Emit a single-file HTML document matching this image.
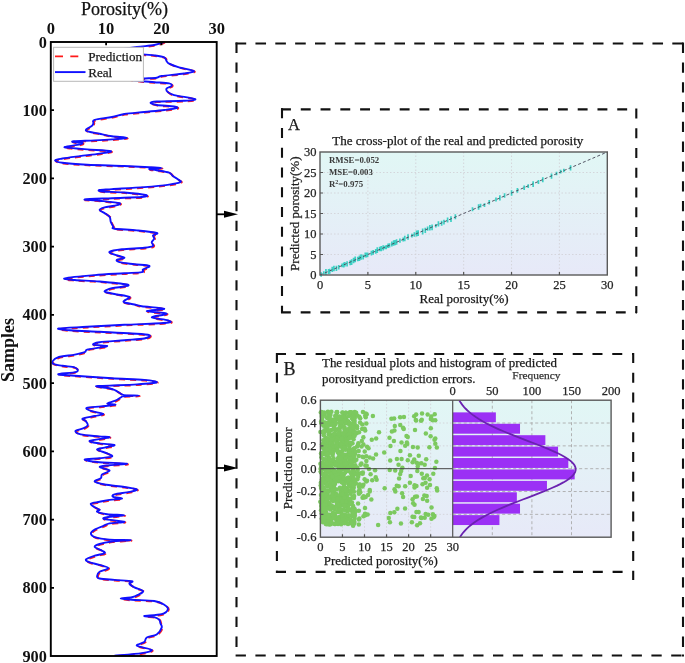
<!DOCTYPE html><html><head><meta charset="utf-8"><title>Porosity prediction</title><style>
html,body{margin:0;padding:0;background:#fff;overflow:hidden;}svg{display:block;will-change:transform;}
text{font-family:"Liberation Serif",serif;}
</style></head><body>
<svg width="685" height="663" viewBox="0 0 685 663">
<defs>
<linearGradient id="bg" x1="0" y1="0" x2="0" y2="1"><stop offset="0" stop-color="#e1f7f5"/><stop offset="1" stop-color="#e7e9f8"/></linearGradient>
<clipPath id="cpL"><rect x="51" y="42" width="165.7" height="614"/></clipPath>
<clipPath id="cpH"><rect x="452.7" y="400.2" width="158.4" height="137"/></clipPath>
</defs>
<text x="124.6" y="14.8" font-size="18" text-anchor="middle" fill="#111" stroke="#111" stroke-width="0.25">Porosity(%)</text>
<text x="50.8" y="34.2" font-size="16.5" font-weight="bold" text-anchor="middle" fill="#111">0</text>
<text x="106.1" y="34.2" font-size="16.5" font-weight="bold" text-anchor="middle" fill="#111">10</text>
<text x="161.4" y="34.2" font-size="16.5" font-weight="bold" text-anchor="middle" fill="#111">20</text>
<text x="216.7" y="34.2" font-size="16.5" font-weight="bold" text-anchor="middle" fill="#111">30</text>
<text x="46.8" y="47.6" font-size="16.3" font-weight="bold" text-anchor="end" fill="#111">0</text>
<text x="46.8" y="115.82" font-size="16.3" font-weight="bold" text-anchor="end" fill="#111">100</text>
<text x="46.8" y="184.04" font-size="16.3" font-weight="bold" text-anchor="end" fill="#111">200</text>
<text x="46.8" y="252.27" font-size="16.3" font-weight="bold" text-anchor="end" fill="#111">300</text>
<text x="46.8" y="320.49" font-size="16.3" font-weight="bold" text-anchor="end" fill="#111">400</text>
<text x="46.8" y="388.71" font-size="16.3" font-weight="bold" text-anchor="end" fill="#111">500</text>
<text x="46.8" y="456.93" font-size="16.3" font-weight="bold" text-anchor="end" fill="#111">600</text>
<text x="46.8" y="525.16" font-size="16.3" font-weight="bold" text-anchor="end" fill="#111">700</text>
<text x="46.8" y="593.38" font-size="16.3" font-weight="bold" text-anchor="end" fill="#111">800</text>
<text x="46.8" y="661.6" font-size="16.3" font-weight="bold" text-anchor="end" fill="#111">900</text>
<text transform="translate(14.3,350) rotate(-90)" font-size="18" font-weight="bold" text-anchor="middle" fill="#111">Samples</text>
<g clip-path="url(#cpL)">
<path d="M164.2,42C162.53,42.5 158.75,44.17 154.2,45C149.65,45.83 142.6,46.17 136.9,47C131.2,47.83 121.98,49.17 120,50C118.02,50.83 121.17,51.27 125,52C128.83,52.73 138.13,53.83 143,54.4C147.87,54.97 150.67,54.9 154.2,55.4C157.73,55.9 162.13,56.45 164.2,57.4C166.27,58.35 165.78,60.07 166.6,61.1C167.42,62.13 167.03,62.57 169.1,63.6C171.17,64.63 174.87,66.07 179,67.3C183.13,68.53 193.07,69.97 193.9,71C194.73,72.03 189.37,72.67 184,73.5C178.63,74.33 166.25,75.3 161.7,76C157.15,76.7 159.82,77.28 156.7,77.7C153.58,78.12 147.45,78.2 143,78.5C138.55,78.8 130.62,79.08 130,79.5C129.38,79.92 135.27,80.55 139.3,81C143.33,81.45 149.23,81.8 154.2,82.2C159.17,82.6 166.2,82.78 169.1,83.4C172,84.02 172.02,85.07 171.6,85.9C171.18,86.73 167.22,87.37 166.6,88.4C165.98,89.43 166.65,90.98 167.9,92.1C169.15,93.22 169.55,93.93 174.1,95.1C178.65,96.27 193.55,98.15 195.2,99.1C196.85,100.05 190.42,100.4 184,100.8C177.58,101.2 162.28,101.17 156.7,101.5C151.12,101.83 150.5,102.22 150.5,102.8C150.5,103.38 152.77,104.38 156.7,105C160.63,105.62 170.78,105.97 174.1,106.5C177.42,107.03 178.25,107.62 176.6,108.2C174.95,108.78 169.58,109.37 164.2,110C158.82,110.63 150.93,111.33 144.3,112C137.67,112.67 129.78,113.17 124.4,114C119.02,114.83 116.95,116.02 112,117C107.05,117.98 97.8,118.88 94.7,119.9C91.6,120.92 93.82,122.15 93.4,123.1C92.98,124.05 93.43,124.35 92.2,125.6C90.97,126.85 84.77,129.25 86,130.6C87.23,131.95 95.27,132.77 99.6,133.7C103.93,134.63 107.45,135.5 112,136.2C116.55,136.9 126.9,137.37 126.9,137.9C126.9,138.43 117.37,138.98 112,139.4C106.63,139.82 101.1,140.1 94.7,140.4C88.3,140.7 76.92,140.87 73.6,141.2C70.28,141.53 73.35,142.12 74.8,142.4C76.25,142.68 81.47,142.57 82.3,142.9C83.13,143.23 82.7,143.73 79.8,144.4C76.9,145.07 66.55,146.32 64.9,146.9C63.25,147.48 66.18,147.48 69.9,147.9C73.62,148.32 80.38,148.87 87.2,149.4C94.02,149.93 108.73,150.4 110.8,151.1C112.87,151.8 104.77,152.77 99.6,153.6C94.43,154.43 86,155.28 79.8,156.1C73.6,156.92 66.53,157.8 62.4,158.5C58.27,159.2 55,159.58 55,160.3C55,161.02 57.03,162.07 62.4,162.8C67.77,163.53 76.87,164.17 87.2,164.7C97.53,165.23 114.05,165.58 124.4,166C134.75,166.42 143.08,166.87 149.3,167.2C155.52,167.53 161.7,167.7 161.7,168C161.7,168.3 150.13,168.63 149.3,169C148.47,169.37 153.4,169.58 156.7,170.2C160,170.82 166.42,171.75 169.1,172.7C171.78,173.65 171.15,174.67 172.8,175.9C174.45,177.13 177.75,179.07 179,180.1C180.25,181.13 181.95,181.35 180.3,182.1C178.65,182.85 175.1,183.77 169.1,184.6C163.1,185.43 153.82,186.35 144.3,187.1C134.78,187.85 119.45,188.62 112,189.1C104.55,189.58 101.25,189.6 99.6,190C97.95,190.4 97.97,191.08 102.1,191.5C106.23,191.92 117.17,191.92 124.4,192.5C131.63,193.08 142.6,194.25 145.5,195C148.4,195.75 147.38,196.47 141.8,197C136.22,197.53 121.52,197.78 112,198.2C102.48,198.62 86.77,199.08 84.7,199.5C82.63,199.92 93.8,200.08 99.6,200.7C105.4,201.32 117.02,202.37 119.5,203.2C121.98,204.03 116.98,205 114.5,205.7C112.02,206.4 107.08,206.7 104.6,207.4C102.12,208.1 99.6,208.95 99.6,209.9C99.6,210.85 102.93,211.95 104.6,213.1C106.27,214.25 108.57,215.35 109.6,216.8C110.63,218.25 110.18,220.13 110.8,221.8C111.42,223.47 112.68,225.65 113.3,226.8C113.92,227.95 110.57,228.1 114.5,228.7C118.43,229.3 129.87,229.7 136.9,230.4C143.93,231.1 154.02,232.07 156.7,232.9C159.38,233.73 153.42,234.45 153,235.4C152.58,236.35 154.42,237.45 154.2,238.6C153.98,239.75 151.9,241.07 151.7,242.3C151.5,243.53 154.23,245.08 153,246C151.77,246.92 149.47,247.25 144.3,247.8C139.13,248.35 127.78,248.63 122,249.3C116.22,249.97 110.85,250.9 109.6,251.8C108.35,252.7 112.03,253.72 114.5,254.7C116.97,255.68 123.98,256.87 124.4,257.7C124.82,258.53 117.82,258.95 117,259.7C116.18,260.45 116.6,261.45 119.5,262.2C122.4,262.95 129.43,263.58 134.4,264.2C139.37,264.82 147.87,265 149.3,265.9C150.73,266.8 144.25,268.57 143,269.6C141.75,270.63 144.9,271.48 141.8,272.1C138.7,272.72 132.25,272.8 124.4,273.3C116.55,273.8 104.62,274.27 94.7,275.1C84.78,275.93 68.22,277.48 64.9,278.3C61.58,279.12 69.02,279.47 74.8,280C80.58,280.53 90.92,280.75 99.6,281.5C108.28,282.25 122.77,283.67 126.9,284.5C131.03,285.33 126.88,285.88 124.4,286.5C121.92,287.12 115.3,287.37 112,288.2C108.7,289.03 104.18,290.53 104.6,291.5C105.02,292.47 110.37,293.1 114.5,294C118.63,294.9 127.75,295.8 129.4,296.9C131.05,298 125.23,299.67 124.4,300.6C123.57,301.53 122.73,301.85 124.4,302.5C126.07,303.15 131.5,303.88 134.4,304.5C137.3,305.12 136.83,305.5 141.8,306.2C146.77,306.9 163.37,307.87 164.2,308.7C165.03,309.53 146.4,310.38 146.8,311.2C147.2,312.02 165.78,312.57 166.6,313.6C167.42,314.63 151.48,316.28 151.7,317.4C151.92,318.52 165.42,319.4 167.9,320.3C170.38,321.2 173.85,322.05 166.6,322.8C159.35,323.55 137.63,324.13 124.4,324.8C111.17,325.47 98.15,326.18 87.2,326.8C76.25,327.42 61.58,327.92 58.7,328.5C55.82,329.08 63.08,329.75 69.9,330.3C76.72,330.85 89.27,331.27 99.6,331.8C109.93,332.33 123.62,332.93 131.9,333.5C140.18,334.07 147.23,334.37 149.3,335.2C151.37,336.03 148.45,337.67 144.3,338.5C140.15,339.33 131.85,339.58 124.4,340.2C116.95,340.82 104.77,341.45 99.6,342.2C94.43,342.95 92.15,344.08 93.4,344.7C94.65,345.32 106.07,345.42 107.1,345.9C108.13,346.38 102.92,346.98 99.6,347.6C96.28,348.22 89.68,348.85 87.2,349.6C84.72,350.35 86.77,351.27 84.7,352.1C82.63,352.93 79.35,353.68 74.8,354.6C70.25,355.52 61.12,356.15 57.4,357.6C53.68,359.05 51.67,361.93 52.5,363.3C53.33,364.67 58.68,365.1 62.4,365.8C66.12,366.5 72.45,366.5 74.8,367.5C77.15,368.5 79.27,370.68 76.5,371.8C73.73,372.92 58.48,373.55 58.2,374.2C57.92,374.85 65.83,375.03 74.8,375.7C83.77,376.37 100.42,377.5 112,378.2C123.58,378.9 136.85,379.2 144.3,379.9C151.75,380.6 157.93,381.65 156.7,382.4C155.47,383.15 144.75,383.87 136.9,384.4C129.05,384.93 116.42,385.28 109.6,385.6C102.78,385.92 95.93,385.82 96,386.3C96.07,386.78 106.77,387.82 110,388.5C113.23,389.18 113.65,389.57 115.4,390.4C117.15,391.23 119.07,392.72 120.5,393.5C121.93,394.28 120.93,394.75 124,395.1C127.07,395.45 138.9,395.42 138.9,395.6C138.9,395.78 126.9,395.97 124,396.2C121.1,396.43 122.93,396.25 121.5,397C120.07,397.75 117.78,399.62 115.4,400.7C113.02,401.78 107.2,402.83 107.2,403.5C107.2,404.17 116.42,404.22 115.4,404.7C114.38,405.18 105.87,405.88 101.1,406.4C96.33,406.92 88.5,407.05 86.8,407.8C85.1,408.55 88.18,409.88 90.9,410.9C93.62,411.92 102.42,413.05 103.1,413.9C103.78,414.75 98.4,415.22 95,416C91.6,416.78 84.23,417.75 82.7,418.6C81.17,419.45 84.95,420 85.8,421.1C86.65,422.2 88.15,424.02 87.8,425.2C87.45,426.38 85.75,427.25 83.7,428.2C81.65,429.15 76,429.87 75.5,430.9C75,431.93 76.78,433.48 80.7,434.4C84.62,435.32 94.23,435.9 99,436.4C103.77,436.9 110.85,436.65 109.3,437.4C107.75,438.15 91.32,439.9 89.7,440.9C88.08,441.9 95.47,442.7 99.6,443.4C103.73,444.1 113.67,444.4 114.5,445.1C115.33,445.8 107.5,446.85 104.6,447.6C101.7,448.35 96.68,448.65 97.1,449.6C97.52,450.55 104.62,452.15 107.1,453.3C109.58,454.45 113.25,455.68 112,456.5C110.75,457.32 104.15,457.7 99.6,458.2C95.05,458.7 85.12,458.87 84.7,459.5C84.28,460.13 90.07,461.3 97.1,462C104.13,462.7 124.82,463.17 126.9,463.7C128.98,464.23 114.15,464.67 109.6,465.2C105.05,465.73 99.6,466 99.6,466.9C99.6,467.8 109.18,469.35 109.6,470.6C110.02,471.85 103.55,473.15 102.1,474.4C100.65,475.65 102.13,476.92 100.9,478.1C99.67,479.28 94.08,480.43 94.7,481.5C95.32,482.57 99.65,483.58 104.6,484.5C109.55,485.42 119.02,486.18 124.4,487C129.78,487.82 136.07,488.58 136.9,489.4C137.73,490.22 133.13,491.07 129.4,491.9C125.67,492.73 117.18,493.57 114.5,494.4C111.82,495.23 112.05,496.2 113.3,496.9C114.55,497.6 122.62,498.1 122,498.6C121.38,499.1 113.33,499.37 109.6,499.9C105.87,500.43 102.72,501.18 99.6,501.8C96.48,502.42 91.72,502.68 90.9,503.6C90.08,504.52 93.25,506.27 94.7,507.3C96.15,508.33 99.2,509.05 99.6,509.8C100,510.55 95.85,511.07 97.1,511.8C98.35,512.53 102.55,513.63 107.1,514.2C111.65,514.77 124.4,514.7 124.4,515.2C124.4,515.7 110.4,516.53 107.1,517.2C103.8,517.87 101.72,518.45 104.6,519.2C107.48,519.95 123.57,521 124.4,521.7C125.23,522.4 113.1,522.7 109.6,523.4C106.1,524.1 105.88,524.87 103.4,525.9C100.92,526.93 96.78,528.37 94.7,529.6C92.62,530.83 90.9,532.05 90.9,533.3C90.9,534.55 91.58,536.05 94.7,537.1C97.82,538.15 103.62,539.12 109.6,539.6C115.58,540.08 130.2,539.68 130.6,540C131,540.32 117.17,540.83 112,541.5C106.83,542.17 102.48,543.08 99.6,544C96.72,544.92 94.28,545.88 94.7,547C95.12,548.12 100.45,549.67 102.1,550.7C103.75,551.73 105.83,552.37 104.6,553.2C103.37,554.03 97.8,554.67 94.7,555.7C91.6,556.73 86.83,558.28 86,559.4C85.17,560.52 87.43,561.48 89.7,562.4C91.97,563.32 96.5,563.95 99.6,564.9C102.7,565.85 108.3,566.95 108.3,568.1C108.3,569.25 101.47,570.48 99.6,571.8C97.73,573.12 97.1,574.88 97.1,576C97.1,577.12 96.7,577.85 99.6,578.5C102.5,579.15 109.12,579.45 114.5,579.9C119.88,580.35 129.42,580.58 131.9,581.2C134.38,581.82 128.98,582.57 129.4,583.6C129.82,584.63 132.13,586.15 134.4,587.4C136.67,588.65 142.38,589.87 143,591.1C143.62,592.33 139.95,593.77 138.1,594.8C136.25,595.83 134.8,596.68 131.9,597.3C129,597.92 120.7,598.08 120.7,598.5C120.7,598.92 126.32,599.38 131.9,599.8C137.48,600.22 148.82,600.18 154.2,601C159.58,601.82 161.92,603.33 164.2,604.7C166.48,606.07 168.32,607.62 167.9,609.2C167.48,610.78 165.63,613.08 161.7,614.2C157.77,615.32 145.55,615.42 144.3,615.9C143.05,616.38 151.72,616.48 154.2,617.1C156.68,617.72 158.17,618.57 159.2,619.6C160.23,620.63 159.98,621.97 160.4,623.3C160.82,624.63 162.32,625.73 161.7,627.6C161.08,629.47 159.18,632.85 156.7,634.5C154.22,636.15 148.87,636.25 146.8,637.5C144.73,638.75 145.95,640.63 144.3,642C142.65,643.37 135.67,644.38 136.9,645.7C138.13,647.02 150.88,648.67 151.7,649.9C152.52,651.13 148,652.15 141.8,653.1C135.6,654.05 119.05,655.18 114.5,655.6" transform="translate(0.8,0.6)" fill="none" stroke="#ff2020" stroke-width="2" stroke-dasharray="6 5"/>
<path d="M164.2,42C162.53,42.5 158.75,44.17 154.2,45C149.65,45.83 142.6,46.17 136.9,47C131.2,47.83 121.98,49.17 120,50C118.02,50.83 121.17,51.27 125,52C128.83,52.73 138.13,53.83 143,54.4C147.87,54.97 150.67,54.9 154.2,55.4C157.73,55.9 162.13,56.45 164.2,57.4C166.27,58.35 165.78,60.07 166.6,61.1C167.42,62.13 167.03,62.57 169.1,63.6C171.17,64.63 174.87,66.07 179,67.3C183.13,68.53 193.07,69.97 193.9,71C194.73,72.03 189.37,72.67 184,73.5C178.63,74.33 166.25,75.3 161.7,76C157.15,76.7 159.82,77.28 156.7,77.7C153.58,78.12 147.45,78.2 143,78.5C138.55,78.8 130.62,79.08 130,79.5C129.38,79.92 135.27,80.55 139.3,81C143.33,81.45 149.23,81.8 154.2,82.2C159.17,82.6 166.2,82.78 169.1,83.4C172,84.02 172.02,85.07 171.6,85.9C171.18,86.73 167.22,87.37 166.6,88.4C165.98,89.43 166.65,90.98 167.9,92.1C169.15,93.22 169.55,93.93 174.1,95.1C178.65,96.27 193.55,98.15 195.2,99.1C196.85,100.05 190.42,100.4 184,100.8C177.58,101.2 162.28,101.17 156.7,101.5C151.12,101.83 150.5,102.22 150.5,102.8C150.5,103.38 152.77,104.38 156.7,105C160.63,105.62 170.78,105.97 174.1,106.5C177.42,107.03 178.25,107.62 176.6,108.2C174.95,108.78 169.58,109.37 164.2,110C158.82,110.63 150.93,111.33 144.3,112C137.67,112.67 129.78,113.17 124.4,114C119.02,114.83 116.95,116.02 112,117C107.05,117.98 97.8,118.88 94.7,119.9C91.6,120.92 93.82,122.15 93.4,123.1C92.98,124.05 93.43,124.35 92.2,125.6C90.97,126.85 84.77,129.25 86,130.6C87.23,131.95 95.27,132.77 99.6,133.7C103.93,134.63 107.45,135.5 112,136.2C116.55,136.9 126.9,137.37 126.9,137.9C126.9,138.43 117.37,138.98 112,139.4C106.63,139.82 101.1,140.1 94.7,140.4C88.3,140.7 76.92,140.87 73.6,141.2C70.28,141.53 73.35,142.12 74.8,142.4C76.25,142.68 81.47,142.57 82.3,142.9C83.13,143.23 82.7,143.73 79.8,144.4C76.9,145.07 66.55,146.32 64.9,146.9C63.25,147.48 66.18,147.48 69.9,147.9C73.62,148.32 80.38,148.87 87.2,149.4C94.02,149.93 108.73,150.4 110.8,151.1C112.87,151.8 104.77,152.77 99.6,153.6C94.43,154.43 86,155.28 79.8,156.1C73.6,156.92 66.53,157.8 62.4,158.5C58.27,159.2 55,159.58 55,160.3C55,161.02 57.03,162.07 62.4,162.8C67.77,163.53 76.87,164.17 87.2,164.7C97.53,165.23 114.05,165.58 124.4,166C134.75,166.42 143.08,166.87 149.3,167.2C155.52,167.53 161.7,167.7 161.7,168C161.7,168.3 150.13,168.63 149.3,169C148.47,169.37 153.4,169.58 156.7,170.2C160,170.82 166.42,171.75 169.1,172.7C171.78,173.65 171.15,174.67 172.8,175.9C174.45,177.13 177.75,179.07 179,180.1C180.25,181.13 181.95,181.35 180.3,182.1C178.65,182.85 175.1,183.77 169.1,184.6C163.1,185.43 153.82,186.35 144.3,187.1C134.78,187.85 119.45,188.62 112,189.1C104.55,189.58 101.25,189.6 99.6,190C97.95,190.4 97.97,191.08 102.1,191.5C106.23,191.92 117.17,191.92 124.4,192.5C131.63,193.08 142.6,194.25 145.5,195C148.4,195.75 147.38,196.47 141.8,197C136.22,197.53 121.52,197.78 112,198.2C102.48,198.62 86.77,199.08 84.7,199.5C82.63,199.92 93.8,200.08 99.6,200.7C105.4,201.32 117.02,202.37 119.5,203.2C121.98,204.03 116.98,205 114.5,205.7C112.02,206.4 107.08,206.7 104.6,207.4C102.12,208.1 99.6,208.95 99.6,209.9C99.6,210.85 102.93,211.95 104.6,213.1C106.27,214.25 108.57,215.35 109.6,216.8C110.63,218.25 110.18,220.13 110.8,221.8C111.42,223.47 112.68,225.65 113.3,226.8C113.92,227.95 110.57,228.1 114.5,228.7C118.43,229.3 129.87,229.7 136.9,230.4C143.93,231.1 154.02,232.07 156.7,232.9C159.38,233.73 153.42,234.45 153,235.4C152.58,236.35 154.42,237.45 154.2,238.6C153.98,239.75 151.9,241.07 151.7,242.3C151.5,243.53 154.23,245.08 153,246C151.77,246.92 149.47,247.25 144.3,247.8C139.13,248.35 127.78,248.63 122,249.3C116.22,249.97 110.85,250.9 109.6,251.8C108.35,252.7 112.03,253.72 114.5,254.7C116.97,255.68 123.98,256.87 124.4,257.7C124.82,258.53 117.82,258.95 117,259.7C116.18,260.45 116.6,261.45 119.5,262.2C122.4,262.95 129.43,263.58 134.4,264.2C139.37,264.82 147.87,265 149.3,265.9C150.73,266.8 144.25,268.57 143,269.6C141.75,270.63 144.9,271.48 141.8,272.1C138.7,272.72 132.25,272.8 124.4,273.3C116.55,273.8 104.62,274.27 94.7,275.1C84.78,275.93 68.22,277.48 64.9,278.3C61.58,279.12 69.02,279.47 74.8,280C80.58,280.53 90.92,280.75 99.6,281.5C108.28,282.25 122.77,283.67 126.9,284.5C131.03,285.33 126.88,285.88 124.4,286.5C121.92,287.12 115.3,287.37 112,288.2C108.7,289.03 104.18,290.53 104.6,291.5C105.02,292.47 110.37,293.1 114.5,294C118.63,294.9 127.75,295.8 129.4,296.9C131.05,298 125.23,299.67 124.4,300.6C123.57,301.53 122.73,301.85 124.4,302.5C126.07,303.15 131.5,303.88 134.4,304.5C137.3,305.12 136.83,305.5 141.8,306.2C146.77,306.9 163.37,307.87 164.2,308.7C165.03,309.53 146.4,310.38 146.8,311.2C147.2,312.02 165.78,312.57 166.6,313.6C167.42,314.63 151.48,316.28 151.7,317.4C151.92,318.52 165.42,319.4 167.9,320.3C170.38,321.2 173.85,322.05 166.6,322.8C159.35,323.55 137.63,324.13 124.4,324.8C111.17,325.47 98.15,326.18 87.2,326.8C76.25,327.42 61.58,327.92 58.7,328.5C55.82,329.08 63.08,329.75 69.9,330.3C76.72,330.85 89.27,331.27 99.6,331.8C109.93,332.33 123.62,332.93 131.9,333.5C140.18,334.07 147.23,334.37 149.3,335.2C151.37,336.03 148.45,337.67 144.3,338.5C140.15,339.33 131.85,339.58 124.4,340.2C116.95,340.82 104.77,341.45 99.6,342.2C94.43,342.95 92.15,344.08 93.4,344.7C94.65,345.32 106.07,345.42 107.1,345.9C108.13,346.38 102.92,346.98 99.6,347.6C96.28,348.22 89.68,348.85 87.2,349.6C84.72,350.35 86.77,351.27 84.7,352.1C82.63,352.93 79.35,353.68 74.8,354.6C70.25,355.52 61.12,356.15 57.4,357.6C53.68,359.05 51.67,361.93 52.5,363.3C53.33,364.67 58.68,365.1 62.4,365.8C66.12,366.5 72.45,366.5 74.8,367.5C77.15,368.5 79.27,370.68 76.5,371.8C73.73,372.92 58.48,373.55 58.2,374.2C57.92,374.85 65.83,375.03 74.8,375.7C83.77,376.37 100.42,377.5 112,378.2C123.58,378.9 136.85,379.2 144.3,379.9C151.75,380.6 157.93,381.65 156.7,382.4C155.47,383.15 144.75,383.87 136.9,384.4C129.05,384.93 116.42,385.28 109.6,385.6C102.78,385.92 95.93,385.82 96,386.3C96.07,386.78 106.77,387.82 110,388.5C113.23,389.18 113.65,389.57 115.4,390.4C117.15,391.23 119.07,392.72 120.5,393.5C121.93,394.28 120.93,394.75 124,395.1C127.07,395.45 138.9,395.42 138.9,395.6C138.9,395.78 126.9,395.97 124,396.2C121.1,396.43 122.93,396.25 121.5,397C120.07,397.75 117.78,399.62 115.4,400.7C113.02,401.78 107.2,402.83 107.2,403.5C107.2,404.17 116.42,404.22 115.4,404.7C114.38,405.18 105.87,405.88 101.1,406.4C96.33,406.92 88.5,407.05 86.8,407.8C85.1,408.55 88.18,409.88 90.9,410.9C93.62,411.92 102.42,413.05 103.1,413.9C103.78,414.75 98.4,415.22 95,416C91.6,416.78 84.23,417.75 82.7,418.6C81.17,419.45 84.95,420 85.8,421.1C86.65,422.2 88.15,424.02 87.8,425.2C87.45,426.38 85.75,427.25 83.7,428.2C81.65,429.15 76,429.87 75.5,430.9C75,431.93 76.78,433.48 80.7,434.4C84.62,435.32 94.23,435.9 99,436.4C103.77,436.9 110.85,436.65 109.3,437.4C107.75,438.15 91.32,439.9 89.7,440.9C88.08,441.9 95.47,442.7 99.6,443.4C103.73,444.1 113.67,444.4 114.5,445.1C115.33,445.8 107.5,446.85 104.6,447.6C101.7,448.35 96.68,448.65 97.1,449.6C97.52,450.55 104.62,452.15 107.1,453.3C109.58,454.45 113.25,455.68 112,456.5C110.75,457.32 104.15,457.7 99.6,458.2C95.05,458.7 85.12,458.87 84.7,459.5C84.28,460.13 90.07,461.3 97.1,462C104.13,462.7 124.82,463.17 126.9,463.7C128.98,464.23 114.15,464.67 109.6,465.2C105.05,465.73 99.6,466 99.6,466.9C99.6,467.8 109.18,469.35 109.6,470.6C110.02,471.85 103.55,473.15 102.1,474.4C100.65,475.65 102.13,476.92 100.9,478.1C99.67,479.28 94.08,480.43 94.7,481.5C95.32,482.57 99.65,483.58 104.6,484.5C109.55,485.42 119.02,486.18 124.4,487C129.78,487.82 136.07,488.58 136.9,489.4C137.73,490.22 133.13,491.07 129.4,491.9C125.67,492.73 117.18,493.57 114.5,494.4C111.82,495.23 112.05,496.2 113.3,496.9C114.55,497.6 122.62,498.1 122,498.6C121.38,499.1 113.33,499.37 109.6,499.9C105.87,500.43 102.72,501.18 99.6,501.8C96.48,502.42 91.72,502.68 90.9,503.6C90.08,504.52 93.25,506.27 94.7,507.3C96.15,508.33 99.2,509.05 99.6,509.8C100,510.55 95.85,511.07 97.1,511.8C98.35,512.53 102.55,513.63 107.1,514.2C111.65,514.77 124.4,514.7 124.4,515.2C124.4,515.7 110.4,516.53 107.1,517.2C103.8,517.87 101.72,518.45 104.6,519.2C107.48,519.95 123.57,521 124.4,521.7C125.23,522.4 113.1,522.7 109.6,523.4C106.1,524.1 105.88,524.87 103.4,525.9C100.92,526.93 96.78,528.37 94.7,529.6C92.62,530.83 90.9,532.05 90.9,533.3C90.9,534.55 91.58,536.05 94.7,537.1C97.82,538.15 103.62,539.12 109.6,539.6C115.58,540.08 130.2,539.68 130.6,540C131,540.32 117.17,540.83 112,541.5C106.83,542.17 102.48,543.08 99.6,544C96.72,544.92 94.28,545.88 94.7,547C95.12,548.12 100.45,549.67 102.1,550.7C103.75,551.73 105.83,552.37 104.6,553.2C103.37,554.03 97.8,554.67 94.7,555.7C91.6,556.73 86.83,558.28 86,559.4C85.17,560.52 87.43,561.48 89.7,562.4C91.97,563.32 96.5,563.95 99.6,564.9C102.7,565.85 108.3,566.95 108.3,568.1C108.3,569.25 101.47,570.48 99.6,571.8C97.73,573.12 97.1,574.88 97.1,576C97.1,577.12 96.7,577.85 99.6,578.5C102.5,579.15 109.12,579.45 114.5,579.9C119.88,580.35 129.42,580.58 131.9,581.2C134.38,581.82 128.98,582.57 129.4,583.6C129.82,584.63 132.13,586.15 134.4,587.4C136.67,588.65 142.38,589.87 143,591.1C143.62,592.33 139.95,593.77 138.1,594.8C136.25,595.83 134.8,596.68 131.9,597.3C129,597.92 120.7,598.08 120.7,598.5C120.7,598.92 126.32,599.38 131.9,599.8C137.48,600.22 148.82,600.18 154.2,601C159.58,601.82 161.92,603.33 164.2,604.7C166.48,606.07 168.32,607.62 167.9,609.2C167.48,610.78 165.63,613.08 161.7,614.2C157.77,615.32 145.55,615.42 144.3,615.9C143.05,616.38 151.72,616.48 154.2,617.1C156.68,617.72 158.17,618.57 159.2,619.6C160.23,620.63 159.98,621.97 160.4,623.3C160.82,624.63 162.32,625.73 161.7,627.6C161.08,629.47 159.18,632.85 156.7,634.5C154.22,636.15 148.87,636.25 146.8,637.5C144.73,638.75 145.95,640.63 144.3,642C142.65,643.37 135.67,644.38 136.9,645.7C138.13,647.02 150.88,648.67 151.7,649.9C152.52,651.13 148,652.15 141.8,653.1C135.6,654.05 119.05,655.18 114.5,655.6" fill="none" stroke="#1010ff" stroke-width="1.9" stroke-linejoin="round"/>
</g>
<rect x="53.6" y="47.3" width="89.8" height="34" fill="#fff" stroke="#b8b8b8" stroke-width="1"/>
<line x1="55" y1="56.4" x2="85" y2="56.4" stroke="#ff1a1a" stroke-width="1.8" stroke-dasharray="8 7.3"/>
<line x1="55" y1="72.1" x2="85.5" y2="72.1" stroke="#1010ff" stroke-width="1.9"/>
<text x="88.2" y="61" font-size="13.1" fill="#1a1a1a" stroke="#1a1a1a" stroke-width="0.25">Prediction</text>
<text x="88.2" y="76.6" font-size="13.1" fill="#1a1a1a" stroke="#1a1a1a" stroke-width="0.25">Real</text>
<rect x="50.8" y="42" width="165.9" height="614" fill="none" stroke="#000" stroke-width="1.9"/>
<path d="M106.1,42v3.2M161.4,42v3.2M50.8,110.22h3.2M50.8,178.44h3.2M50.8,246.67h3.2M50.8,314.89h3.2M50.8,383.11h3.2M50.8,451.33h3.2M50.8,519.56h3.2M50.8,587.78h3.2" stroke="#000" stroke-width="1.8" fill="none"/>
<line x1="217" y1="214.3" x2="226" y2="214.3" stroke="#000" stroke-width="1.8"/>
<path d="M224,210.8 L238,214.3 L224,217.8Z" fill="#000"/>
<line x1="217" y1="468" x2="226" y2="468" stroke="#000" stroke-width="1.8"/>
<path d="M224,464.5 L238,468 L224,471.5Z" fill="#000"/>
<line x1="235.6" y1="43.5" x2="683.8" y2="43.5" stroke="#111" stroke-width="2.1" stroke-dasharray="10.6 9.25"/>
<line x1="236.5" y1="42.6" x2="236.5" y2="656.5" stroke="#111" stroke-width="2.1" stroke-dasharray="10.3 9.5"/>
<line x1="683" y1="42.6" x2="683" y2="656" stroke="#111" stroke-width="2.1" stroke-dasharray="10.3 9.5"/>
<line x1="235.6" y1="655.5" x2="684" y2="655.5" stroke="#111" stroke-width="2.1" stroke-dasharray="10.3 9.5"/>
<rect x="682" y="654.5" width="2" height="2" fill="#111"/>
<line x1="281" y1="109.4" x2="637" y2="109.4" stroke="#111" stroke-width="2.1" stroke-dasharray="9.9 9.88"/>
<line x1="282" y1="108.3" x2="282" y2="313" stroke="#111" stroke-width="2.1" stroke-dasharray="10 9.75"/>
<line x1="636.3" y1="108.4" x2="636.3" y2="313" stroke="#111" stroke-width="2.1" stroke-dasharray="10 9.75"/>
<line x1="281" y1="312.4" x2="637" y2="312.4" stroke="#111" stroke-width="2.1" stroke-dasharray="9.8 9.9"/>
<line x1="276" y1="354" x2="634" y2="354" stroke="#111" stroke-width="2.1" stroke-dasharray="10 9.78"/>
<line x1="276.9" y1="353" x2="276.9" y2="573" stroke="#111" stroke-width="2.1" stroke-dasharray="10 9.8"/>
<line x1="633.2" y1="353" x2="633.2" y2="580" stroke="#111" stroke-width="2.1" stroke-dasharray="10 9.8"/>
<line x1="276" y1="571.9" x2="624" y2="571.9" stroke="#111" stroke-width="2.1" stroke-dasharray="10 9.8"/>
<text x="288" y="130" font-size="16.5" fill="#1a1a1a" stroke="#1a1a1a" stroke-width="0.25">A</text>
<text x="457.8" y="145.2" font-size="13.05" text-anchor="middle" fill="#1a1a1a" stroke="#1a1a1a" stroke-width="0.25">The cross-plot of the real and predicted porosity</text>
<rect x="320" y="152" width="287.3" height="123" fill="url(#bg)"/>
<path d="M367.88,152V275M320,254.5H607.3M415.77,152V275M320,234H607.3M463.65,152V275M320,213.5H607.3M511.53,152V275M320,193H607.3M559.42,152V275M320,172.5H607.3" stroke="#d2d3d8" stroke-width="0.9" stroke-dasharray="1.5 2" fill="none"/>
<path d="M321.12,272.22v4.42M323.78,271.25v3.53M325.93,269.08v5.99M328.58,268.93v5.1M329.75,268.86v4.81M332.22,266.72v5.4M333.94,265.63v5.66M336.41,265.82v5.29M338.76,264.91v4.61M342.1,263.41v3.84M343.73,262.48v5.07M344.85,262.06v4.38M347.1,261.24v5.2M350.17,260.17v5.18M351.61,259.24v5.76M353.56,257.66v5.58M355.19,256.57v5.63M357.81,256.64v4.53M359.46,255.43v5.68M361.07,254.37v5.3M363.11,254.84v4.76M365.3,252.59v5M366.36,252.39v5.03M367.6,252.61v4.28M371.42,250.74v4.65M373.17,249.96v4.9M375.74,249.08v4.58M377.29,247.17v5.94M379.71,246.7v4.54M381.22,246.12v5.08M383.2,245.37v5.2M385.06,245.71v3.56M386.27,245.12v4.13M388.11,243.5v4.41M389.53,243.14v4.25M391.81,241.46v4.92M393.67,240.33v5.51M395.09,240.01v5.25M396.57,239.17v5.58M399.95,238.45v4.34M403.2,237.5v4.06M404.77,235.65v5.52M408.01,234.18v5.52M411.96,233.72v3.82M414.34,232.35v4.37M416.57,230.62v5.8M418.15,230.32v5.7M422.66,228.56v5.82M425.27,227.82v5.16M427.64,226.62v4.07M429.88,225.03v5.53M432.08,224.51v5.81M435.86,223.91v3.53M438.43,221.35v5.16M441.65,220.8v5.03M443.96,219.82v4.69M447.6,217.57v4.84M450.99,216.14v5.8M455.35,214.19v5.07M472.49,207.17v4.17M478.61,204.31v5.44M480.58,203.75v3.81M484.5,203.31v3.72M489.23,200.08v4.38M495.98,197.58v3.98M499.86,195.21v5.29M504.57,193.23v4.43M511.57,190.26v5.5M517.42,187.95v4.74M524.18,185.41v4.65M528.24,184.22v3.68M533.14,181.17v5.84M538.43,179.9v4.16M542.79,177.16v5.16M551.51,173.54v5.33M556.58,171.84v3.51M560.68,169.78v3.73M563.82,168.71v3.56M570.54,165.3v5.18" stroke="#3cd0c4" stroke-width="1.7" fill="none"/>
<line x1="320" y1="275" x2="607.3" y2="152" stroke="#445" stroke-width="0.9" stroke-dasharray="3 2.2"/>
<rect x="320" y="152" width="287.3" height="123" fill="none" stroke="#5a5a5a" stroke-width="1.4"/>
<path d="M367.88,275v-3M320,254.5h3M415.77,275v-3M320,234h3M463.65,275v-3M320,213.5h3M511.53,275v-3M320,193h3M559.42,275v-3M320,172.5h3" stroke="#555" stroke-width="1.2" fill="none"/>
<text x="320" y="288.6" font-size="12.5" text-anchor="middle" fill="#262626" stroke="#262626" stroke-width="0.25">0</text>
<text x="316.5" y="279.4" font-size="12.5" text-anchor="end" fill="#262626" stroke="#262626" stroke-width="0.25">0</text>
<text x="367.88" y="288.6" font-size="12.5" text-anchor="middle" fill="#262626" stroke="#262626" stroke-width="0.25">5</text>
<text x="316.5" y="258.9" font-size="12.5" text-anchor="end" fill="#262626" stroke="#262626" stroke-width="0.25">5</text>
<text x="415.77" y="288.6" font-size="12.5" text-anchor="middle" fill="#262626" stroke="#262626" stroke-width="0.25">10</text>
<text x="316.5" y="238.4" font-size="12.5" text-anchor="end" fill="#262626" stroke="#262626" stroke-width="0.25">10</text>
<text x="463.65" y="288.6" font-size="12.5" text-anchor="middle" fill="#262626" stroke="#262626" stroke-width="0.25">15</text>
<text x="316.5" y="217.9" font-size="12.5" text-anchor="end" fill="#262626" stroke="#262626" stroke-width="0.25">15</text>
<text x="511.53" y="288.6" font-size="12.5" text-anchor="middle" fill="#262626" stroke="#262626" stroke-width="0.25">20</text>
<text x="316.5" y="197.4" font-size="12.5" text-anchor="end" fill="#262626" stroke="#262626" stroke-width="0.25">20</text>
<text x="559.42" y="288.6" font-size="12.5" text-anchor="middle" fill="#262626" stroke="#262626" stroke-width="0.25">25</text>
<text x="316.5" y="176.9" font-size="12.5" text-anchor="end" fill="#262626" stroke="#262626" stroke-width="0.25">25</text>
<text x="607.3" y="288.6" font-size="12.5" text-anchor="middle" fill="#262626" stroke="#262626" stroke-width="0.25">30</text>
<text x="316.5" y="156.4" font-size="12.5" text-anchor="end" fill="#262626" stroke="#262626" stroke-width="0.25">30</text>
<text x="464.1" y="302.5" font-size="13" text-anchor="middle" fill="#1a1a1a" stroke="#1a1a1a" stroke-width="0.25">Real porosity(%)</text>
<text transform="translate(298.5,213.7) rotate(-90)" font-size="13" text-anchor="middle" fill="#1a1a1a" stroke="#1a1a1a" stroke-width="0.25">Predicted porosity(%)</text>
<text x="329" y="163.3" font-size="8.8" font-weight="bold" fill="#3a3a3a">RMSE=0.052</text>
<text x="329" y="174.7" font-size="8.8" font-weight="bold" fill="#3a3a3a">MSE=0.003</text>
<text x="329" y="187.2" font-size="8.8" font-weight="bold" fill="#3a3a3a">R<tspan font-size="6" dy="-3.6">2</tspan><tspan dy="3.6">=0.975</tspan></text>
<text x="283.6" y="374.8" font-size="18" fill="#1a1a1a" stroke="#1a1a1a" stroke-width="0.25">B</text>
<text x="322" y="367.1" font-size="12.95" fill="#1a1a1a" stroke="#1a1a1a" stroke-width="0.25">The residual plots and histogram of predicted</text>
<text x="322" y="382.6" font-size="12.95" fill="#1a1a1a" stroke="#1a1a1a" stroke-width="0.25">porosityand prediction errors.</text>
<rect x="320.4" y="400.2" width="290.7" height="137" fill="url(#bg)"/>
<path d="M342.45,400.2V537.2M364.5,400.2V537.2M386.55,400.2V537.2M408.6,400.2V537.2M430.65,400.2V537.2M320.4,423.03H452.7M320.4,445.87H452.7M320.4,491.53H452.7M320.4,514.37H452.7" stroke="#d2d3d8" stroke-width="0.9" stroke-dasharray="1.5 2" fill="none"/>
<path d="M492.3,400.2V537.2M531.9,400.2V537.2M571.5,400.2V537.2M452.7,423.03H611.1M452.7,445.87H611.1M452.7,468.7H611.1M452.7,491.53H611.1M452.7,514.37H611.1" stroke="#aaa" stroke-width="0.9" stroke-dasharray="3 2.5" fill="none"/>
<g fill="#7cc95f">
<circle cx="335.96" cy="461.88" r="2.25"/><circle cx="352.19" cy="472.62" r="2.25"/><circle cx="337.87" cy="458.72" r="2.25"/><circle cx="326.75" cy="467.34" r="2.25"/><circle cx="342.07" cy="435.25" r="2.25"/><circle cx="323.64" cy="491.15" r="2.25"/><circle cx="323.52" cy="433.35" r="2.25"/><circle cx="344.25" cy="521" r="2.25"/><circle cx="354.19" cy="415.64" r="2.25"/><circle cx="342.89" cy="455.51" r="2.25"/><circle cx="325.82" cy="524.07" r="2.25"/><circle cx="338.58" cy="518.98" r="2.25"/><circle cx="326.94" cy="498.16" r="2.25"/><circle cx="321.43" cy="472.82" r="2.25"/><circle cx="335.55" cy="429.61" r="2.25"/><circle cx="338.26" cy="452.68" r="2.25"/><circle cx="337.59" cy="450.15" r="2.25"/><circle cx="336.13" cy="494.03" r="2.25"/><circle cx="354.72" cy="412.11" r="2.25"/><circle cx="349.3" cy="444.98" r="2.25"/><circle cx="331.24" cy="499.56" r="2.25"/><circle cx="330.34" cy="517.77" r="2.25"/><circle cx="346.76" cy="480.07" r="2.25"/><circle cx="349.52" cy="481.66" r="2.25"/><circle cx="353.35" cy="429.05" r="2.25"/><circle cx="320.42" cy="501.84" r="2.25"/><circle cx="351.71" cy="472.13" r="2.25"/><circle cx="354.12" cy="480.41" r="2.25"/><circle cx="322.91" cy="453.92" r="2.25"/><circle cx="347.18" cy="494.98" r="2.25"/><circle cx="323.4" cy="487.81" r="2.25"/><circle cx="353.56" cy="439.24" r="2.25"/><circle cx="324.46" cy="497.65" r="2.25"/><circle cx="323.88" cy="518.95" r="2.25"/><circle cx="347.82" cy="505.5" r="2.25"/><circle cx="339.64" cy="474.7" r="2.25"/><circle cx="326.96" cy="442.23" r="2.25"/><circle cx="324.91" cy="452.29" r="2.25"/><circle cx="324.41" cy="477.75" r="2.25"/><circle cx="327.72" cy="494.98" r="2.25"/><circle cx="353.8" cy="434.06" r="2.25"/><circle cx="330.86" cy="424.76" r="2.25"/><circle cx="327.65" cy="480.77" r="2.25"/><circle cx="349.79" cy="452.51" r="2.25"/><circle cx="323.85" cy="412.84" r="2.25"/><circle cx="327.74" cy="496.3" r="2.25"/><circle cx="346.98" cy="488.23" r="2.25"/><circle cx="330.59" cy="517.4" r="2.25"/><circle cx="323.5" cy="459.25" r="2.25"/><circle cx="328.76" cy="457.14" r="2.25"/><circle cx="333.19" cy="474.04" r="2.25"/><circle cx="353.39" cy="470.56" r="2.25"/><circle cx="340.16" cy="426.85" r="2.25"/><circle cx="326.69" cy="508.19" r="2.25"/><circle cx="351.65" cy="432.42" r="2.25"/><circle cx="328.98" cy="504.11" r="2.25"/><circle cx="345.83" cy="418.42" r="2.25"/><circle cx="327.16" cy="417.31" r="2.25"/><circle cx="350.75" cy="456.88" r="2.25"/><circle cx="334.9" cy="513.93" r="2.25"/><circle cx="321.73" cy="415.88" r="2.25"/><circle cx="328.6" cy="445.34" r="2.25"/><circle cx="329.24" cy="431.74" r="2.25"/><circle cx="340.92" cy="492.28" r="2.25"/><circle cx="326.43" cy="443.54" r="2.25"/><circle cx="322.77" cy="499.71" r="2.25"/><circle cx="339.64" cy="428.47" r="2.25"/><circle cx="341.53" cy="493.79" r="2.25"/><circle cx="351.96" cy="502.5" r="2.25"/><circle cx="320.97" cy="495.05" r="2.25"/><circle cx="335.73" cy="518.88" r="2.25"/><circle cx="326.46" cy="483.68" r="2.25"/><circle cx="340.08" cy="510.76" r="2.25"/><circle cx="332.86" cy="424.07" r="2.25"/><circle cx="354.13" cy="450.78" r="2.25"/><circle cx="344.18" cy="459.06" r="2.25"/><circle cx="325.23" cy="521.78" r="2.25"/><circle cx="321.02" cy="421.87" r="2.25"/><circle cx="344.51" cy="415.87" r="2.25"/><circle cx="321.13" cy="453.15" r="2.25"/><circle cx="336.99" cy="442.38" r="2.25"/><circle cx="331.37" cy="411.69" r="2.25"/><circle cx="322.99" cy="463.44" r="2.25"/><circle cx="345.75" cy="423.01" r="2.25"/><circle cx="345.75" cy="445.45" r="2.25"/><circle cx="347.69" cy="421.32" r="2.25"/><circle cx="332.5" cy="447.56" r="2.25"/><circle cx="351.39" cy="426.33" r="2.25"/><circle cx="334.75" cy="435.53" r="2.25"/><circle cx="350.1" cy="460.39" r="2.25"/><circle cx="341.9" cy="482.13" r="2.25"/><circle cx="340.44" cy="456.27" r="2.25"/><circle cx="323.16" cy="452.78" r="2.25"/><circle cx="354.57" cy="425.34" r="2.25"/><circle cx="345.45" cy="481.44" r="2.25"/><circle cx="345.68" cy="459.46" r="2.25"/><circle cx="335.55" cy="430.07" r="2.25"/><circle cx="323.28" cy="440.13" r="2.25"/><circle cx="321.42" cy="457.14" r="2.25"/><circle cx="336.94" cy="499.5" r="2.25"/><circle cx="344.42" cy="469.01" r="2.25"/><circle cx="341.54" cy="420.7" r="2.25"/><circle cx="329.2" cy="524.49" r="2.25"/><circle cx="330.75" cy="448.36" r="2.25"/><circle cx="327.37" cy="506.42" r="2.25"/><circle cx="351.56" cy="450.43" r="2.25"/><circle cx="335.6" cy="423.98" r="2.25"/><circle cx="331.65" cy="449.76" r="2.25"/><circle cx="327.23" cy="476.59" r="2.25"/><circle cx="348.12" cy="421.41" r="2.25"/><circle cx="350.68" cy="481.9" r="2.25"/><circle cx="340.46" cy="489.65" r="2.25"/><circle cx="325.08" cy="469.1" r="2.25"/><circle cx="349.19" cy="428.89" r="2.25"/><circle cx="344.86" cy="417.32" r="2.25"/><circle cx="329.92" cy="506.47" r="2.25"/><circle cx="335.9" cy="494.37" r="2.25"/><circle cx="327.76" cy="478.52" r="2.25"/><circle cx="341.92" cy="469.4" r="2.25"/><circle cx="331.25" cy="429.98" r="2.25"/><circle cx="354.18" cy="474.13" r="2.25"/><circle cx="322.97" cy="522.19" r="2.25"/><circle cx="350.42" cy="521.05" r="2.25"/><circle cx="344.78" cy="460.64" r="2.25"/><circle cx="331.03" cy="435.42" r="2.25"/><circle cx="321.06" cy="510.27" r="2.25"/><circle cx="336.05" cy="522.96" r="2.25"/><circle cx="348.94" cy="498.68" r="2.25"/><circle cx="325.25" cy="520.42" r="2.25"/><circle cx="342.04" cy="474.81" r="2.25"/><circle cx="342.07" cy="451" r="2.25"/><circle cx="348.17" cy="416.36" r="2.25"/><circle cx="343.95" cy="503.03" r="2.25"/><circle cx="336.74" cy="505.38" r="2.25"/><circle cx="320.77" cy="471.87" r="2.25"/><circle cx="344.97" cy="505.34" r="2.25"/><circle cx="329.77" cy="486.31" r="2.25"/><circle cx="344.39" cy="466.37" r="2.25"/><circle cx="341.54" cy="439.45" r="2.25"/><circle cx="333.94" cy="435.37" r="2.25"/><circle cx="351.57" cy="515.83" r="2.25"/><circle cx="352.48" cy="443.31" r="2.25"/><circle cx="324.87" cy="474" r="2.25"/><circle cx="341.92" cy="421.9" r="2.25"/><circle cx="333.36" cy="460.84" r="2.25"/><circle cx="350.65" cy="434.82" r="2.25"/><circle cx="352.88" cy="472.84" r="2.25"/><circle cx="342.8" cy="502.39" r="2.25"/><circle cx="345.23" cy="432.36" r="2.25"/><circle cx="342.47" cy="443.85" r="2.25"/><circle cx="327.74" cy="423.04" r="2.25"/><circle cx="354.13" cy="414.2" r="2.25"/><circle cx="338.87" cy="435.5" r="2.25"/><circle cx="331.42" cy="421.89" r="2.25"/><circle cx="349.84" cy="486" r="2.25"/><circle cx="323.25" cy="475.45" r="2.25"/><circle cx="339.33" cy="438.08" r="2.25"/><circle cx="337.17" cy="522.54" r="2.25"/><circle cx="348.23" cy="518.47" r="2.25"/><circle cx="347.91" cy="506.04" r="2.25"/><circle cx="331.92" cy="435.83" r="2.25"/><circle cx="325.23" cy="508.81" r="2.25"/><circle cx="338.17" cy="443.18" r="2.25"/><circle cx="349.29" cy="447.08" r="2.25"/><circle cx="352.93" cy="469.55" r="2.25"/><circle cx="353.05" cy="515.96" r="2.25"/><circle cx="328.02" cy="465.66" r="2.25"/><circle cx="330.38" cy="442.57" r="2.25"/><circle cx="342.38" cy="466.1" r="2.25"/><circle cx="349.42" cy="461.85" r="2.25"/><circle cx="331.12" cy="482.26" r="2.25"/><circle cx="349.48" cy="422.97" r="2.25"/><circle cx="327.56" cy="428.65" r="2.25"/><circle cx="353.71" cy="465.93" r="2.25"/><circle cx="340.11" cy="502.84" r="2.25"/><circle cx="338.83" cy="468.34" r="2.25"/><circle cx="341.22" cy="522.61" r="2.25"/><circle cx="353.75" cy="466.87" r="2.25"/><circle cx="334.18" cy="434.33" r="2.25"/><circle cx="339.76" cy="469.72" r="2.25"/><circle cx="344.17" cy="518.26" r="2.25"/><circle cx="338.93" cy="478.54" r="2.25"/><circle cx="353.31" cy="420.36" r="2.25"/><circle cx="329.66" cy="471.76" r="2.25"/><circle cx="324.77" cy="476.27" r="2.25"/><circle cx="348.46" cy="422.97" r="2.25"/><circle cx="336.79" cy="489.57" r="2.25"/><circle cx="326.99" cy="455.24" r="2.25"/><circle cx="352.23" cy="511" r="2.25"/><circle cx="347.21" cy="523.18" r="2.25"/><circle cx="327.08" cy="499.84" r="2.25"/><circle cx="344.03" cy="489.01" r="2.25"/><circle cx="332.62" cy="455.03" r="2.25"/><circle cx="324.01" cy="442.34" r="2.25"/><circle cx="324.62" cy="467.5" r="2.25"/><circle cx="329.02" cy="503.21" r="2.25"/><circle cx="338.64" cy="475.92" r="2.25"/><circle cx="333.32" cy="478.59" r="2.25"/><circle cx="338.61" cy="507.55" r="2.25"/><circle cx="327.43" cy="453.71" r="2.25"/><circle cx="342.36" cy="465.32" r="2.25"/><circle cx="349.68" cy="455.95" r="2.25"/><circle cx="349.87" cy="499.22" r="2.25"/><circle cx="345.88" cy="433.25" r="2.25"/><circle cx="351.45" cy="489.72" r="2.25"/><circle cx="331.23" cy="420.43" r="2.25"/><circle cx="327.9" cy="411.8" r="2.25"/><circle cx="350.93" cy="510.49" r="2.25"/><circle cx="328.63" cy="442.83" r="2.25"/><circle cx="329.33" cy="514.71" r="2.25"/><circle cx="349.02" cy="477.65" r="2.25"/><circle cx="347.57" cy="511.4" r="2.25"/><circle cx="334.25" cy="447.55" r="2.25"/><circle cx="321.01" cy="502.84" r="2.25"/><circle cx="343.87" cy="421.73" r="2.25"/><circle cx="353.71" cy="512.61" r="2.25"/><circle cx="337.79" cy="439.23" r="2.25"/><circle cx="337.69" cy="447.5" r="2.25"/><circle cx="326.9" cy="517.73" r="2.25"/><circle cx="324.05" cy="521.51" r="2.25"/><circle cx="339.38" cy="467.01" r="2.25"/><circle cx="339.96" cy="509.05" r="2.25"/><circle cx="326.75" cy="502.5" r="2.25"/><circle cx="349.3" cy="412.72" r="2.25"/><circle cx="352.28" cy="514.91" r="2.25"/><circle cx="322.53" cy="417.15" r="2.25"/><circle cx="336.29" cy="438.48" r="2.25"/><circle cx="331.64" cy="472.47" r="2.25"/><circle cx="338.12" cy="476.68" r="2.25"/><circle cx="341.07" cy="524.27" r="2.25"/><circle cx="344.51" cy="429.4" r="2.25"/><circle cx="326.64" cy="473.96" r="2.25"/><circle cx="345.83" cy="479.51" r="2.25"/><circle cx="327.11" cy="506.94" r="2.25"/><circle cx="338.03" cy="524.02" r="2.25"/><circle cx="351.12" cy="434.26" r="2.25"/><circle cx="344.64" cy="427.52" r="2.25"/><circle cx="342.05" cy="479.6" r="2.25"/><circle cx="341.03" cy="468.21" r="2.25"/><circle cx="354.2" cy="433.9" r="2.25"/><circle cx="329.28" cy="421.74" r="2.25"/><circle cx="346.01" cy="436.96" r="2.25"/><circle cx="348.42" cy="479.47" r="2.25"/><circle cx="351.24" cy="425.33" r="2.25"/><circle cx="344.3" cy="438.19" r="2.25"/><circle cx="346.72" cy="479.46" r="2.25"/><circle cx="345.26" cy="517.73" r="2.25"/><circle cx="332.15" cy="472.26" r="2.25"/><circle cx="320.76" cy="485.18" r="2.25"/><circle cx="342.37" cy="454.54" r="2.25"/><circle cx="328.38" cy="417.93" r="2.25"/><circle cx="343.31" cy="487.22" r="2.25"/><circle cx="343.09" cy="460.76" r="2.25"/><circle cx="338.74" cy="481.3" r="2.25"/><circle cx="354.79" cy="452.46" r="2.25"/><circle cx="344.52" cy="438.82" r="2.25"/><circle cx="354.11" cy="523.18" r="2.25"/><circle cx="341.57" cy="441.44" r="2.25"/><circle cx="329.23" cy="479.94" r="2.25"/><circle cx="322.14" cy="503.47" r="2.25"/><circle cx="333.32" cy="514.54" r="2.25"/><circle cx="329.03" cy="422.39" r="2.25"/><circle cx="339.32" cy="467.81" r="2.25"/><circle cx="353.67" cy="460.94" r="2.25"/><circle cx="354.63" cy="452.94" r="2.25"/><circle cx="348.25" cy="517.08" r="2.25"/><circle cx="340.95" cy="439.1" r="2.25"/><circle cx="321.95" cy="419.59" r="2.25"/><circle cx="325.9" cy="471.92" r="2.25"/><circle cx="326.22" cy="469.21" r="2.25"/><circle cx="341.42" cy="519.1" r="2.25"/><circle cx="352.92" cy="477.75" r="2.25"/><circle cx="338.52" cy="457.53" r="2.25"/><circle cx="332.98" cy="493.16" r="2.25"/><circle cx="342.93" cy="461.78" r="2.25"/><circle cx="330.15" cy="443.97" r="2.25"/><circle cx="330.58" cy="524.18" r="2.25"/><circle cx="328.83" cy="520.9" r="2.25"/><circle cx="325.79" cy="439.63" r="2.25"/><circle cx="333.81" cy="423.31" r="2.25"/><circle cx="346.14" cy="520.06" r="2.25"/><circle cx="354.41" cy="417.96" r="2.25"/><circle cx="322.93" cy="422.4" r="2.25"/><circle cx="335.17" cy="471.26" r="2.25"/><circle cx="353.88" cy="497.96" r="2.25"/><circle cx="338.4" cy="418.78" r="2.25"/><circle cx="345.26" cy="472.31" r="2.25"/><circle cx="354.07" cy="432.54" r="2.25"/><circle cx="341.16" cy="512.64" r="2.25"/><circle cx="341.87" cy="473.76" r="2.25"/><circle cx="327.41" cy="519.84" r="2.25"/><circle cx="338.57" cy="511.59" r="2.25"/><circle cx="335.63" cy="449.53" r="2.25"/><circle cx="336.07" cy="495.86" r="2.25"/><circle cx="340.43" cy="477.89" r="2.25"/><circle cx="347.16" cy="465.19" r="2.25"/><circle cx="354.72" cy="417.02" r="2.25"/><circle cx="345.66" cy="498.56" r="2.25"/><circle cx="324.32" cy="423.87" r="2.25"/><circle cx="347.38" cy="454.43" r="2.25"/><circle cx="332.76" cy="494.79" r="2.25"/><circle cx="343.96" cy="461.29" r="2.25"/><circle cx="340.75" cy="453.5" r="2.25"/><circle cx="346.31" cy="504.11" r="2.25"/><circle cx="328.96" cy="413.93" r="2.25"/><circle cx="351.9" cy="425.46" r="2.25"/><circle cx="321.76" cy="518.84" r="2.25"/><circle cx="329.72" cy="477.24" r="2.25"/><circle cx="341.84" cy="514.08" r="2.25"/><circle cx="339.03" cy="517.51" r="2.25"/><circle cx="323.37" cy="448.57" r="2.25"/><circle cx="339.34" cy="453.73" r="2.25"/><circle cx="333.24" cy="471.15" r="2.25"/><circle cx="327.65" cy="486.54" r="2.25"/><circle cx="346.02" cy="430.05" r="2.25"/><circle cx="322.96" cy="512.11" r="2.25"/><circle cx="348.23" cy="454.57" r="2.25"/><circle cx="346.84" cy="501.45" r="2.25"/><circle cx="335" cy="496.32" r="2.25"/><circle cx="348.26" cy="483.66" r="2.25"/><circle cx="342.88" cy="412.85" r="2.25"/><circle cx="331.59" cy="463.15" r="2.25"/><circle cx="346.06" cy="420.66" r="2.25"/><circle cx="335.11" cy="483.63" r="2.25"/><circle cx="323.74" cy="425.87" r="2.25"/><circle cx="323.1" cy="516.31" r="2.25"/><circle cx="339.81" cy="470.43" r="2.25"/><circle cx="343.97" cy="491.66" r="2.25"/><circle cx="347.08" cy="517.1" r="2.25"/><circle cx="327.74" cy="450.19" r="2.25"/><circle cx="323.21" cy="491.1" r="2.25"/><circle cx="345.34" cy="446.55" r="2.25"/><circle cx="330.13" cy="509.47" r="2.25"/><circle cx="332.71" cy="442.9" r="2.25"/><circle cx="333" cy="512.38" r="2.25"/><circle cx="344.8" cy="460.79" r="2.25"/><circle cx="352" cy="418.47" r="2.25"/><circle cx="351.82" cy="475.78" r="2.25"/><circle cx="348.02" cy="490.99" r="2.25"/><circle cx="331.33" cy="480.16" r="2.25"/><circle cx="352.55" cy="423.64" r="2.25"/><circle cx="328.94" cy="484.49" r="2.25"/><circle cx="332.97" cy="484.31" r="2.25"/><circle cx="334.01" cy="481.53" r="2.25"/><circle cx="327.11" cy="461.42" r="2.25"/><circle cx="347.82" cy="464.07" r="2.25"/><circle cx="349.17" cy="461.53" r="2.25"/><circle cx="326.47" cy="439.14" r="2.25"/><circle cx="350.7" cy="493.65" r="2.25"/><circle cx="321.16" cy="466.91" r="2.25"/><circle cx="339.12" cy="461" r="2.25"/><circle cx="353.64" cy="451.44" r="2.25"/><circle cx="348.07" cy="518.47" r="2.25"/><circle cx="339.21" cy="435.81" r="2.25"/><circle cx="323.29" cy="516.46" r="2.25"/><circle cx="345.75" cy="423.14" r="2.25"/><circle cx="323.31" cy="453.39" r="2.25"/><circle cx="325.35" cy="440.64" r="2.25"/><circle cx="342.72" cy="497.76" r="2.25"/><circle cx="327.98" cy="438.41" r="2.25"/><circle cx="338.34" cy="438.48" r="2.25"/><circle cx="333.97" cy="487.22" r="2.25"/><circle cx="353.71" cy="449.02" r="2.25"/><circle cx="337.38" cy="464.44" r="2.25"/><circle cx="345.2" cy="444.94" r="2.25"/><circle cx="351.87" cy="478.91" r="2.25"/><circle cx="348.82" cy="449.66" r="2.25"/><circle cx="349.76" cy="433.78" r="2.25"/><circle cx="349.08" cy="424.33" r="2.25"/><circle cx="353.35" cy="452.69" r="2.25"/><circle cx="338.42" cy="444.72" r="2.25"/><circle cx="348" cy="477.65" r="2.25"/><circle cx="334.86" cy="509.09" r="2.25"/><circle cx="345.9" cy="412.64" r="2.25"/><circle cx="333.32" cy="506.64" r="2.25"/><circle cx="327.43" cy="477.27" r="2.25"/><circle cx="330.45" cy="415.07" r="2.25"/><circle cx="322.44" cy="490.57" r="2.25"/><circle cx="324.35" cy="451.81" r="2.25"/><circle cx="347.09" cy="505.3" r="2.25"/><circle cx="322.54" cy="473.41" r="2.25"/><circle cx="340.49" cy="421.97" r="2.25"/><circle cx="321.65" cy="513.38" r="2.25"/><circle cx="326.75" cy="500.97" r="2.25"/><circle cx="328.5" cy="443.9" r="2.25"/><circle cx="340.86" cy="500.21" r="2.25"/><circle cx="326.76" cy="493.7" r="2.25"/><circle cx="326.33" cy="439.3" r="2.25"/><circle cx="331.12" cy="463.19" r="2.25"/><circle cx="348.51" cy="471.04" r="2.25"/><circle cx="329.36" cy="424.47" r="2.25"/><circle cx="351.85" cy="486.73" r="2.25"/><circle cx="339.23" cy="416.52" r="2.25"/><circle cx="337" cy="500.55" r="2.25"/><circle cx="322.11" cy="417.61" r="2.25"/><circle cx="347.97" cy="481.83" r="2.25"/><circle cx="338.55" cy="466.89" r="2.25"/><circle cx="329.84" cy="412.73" r="2.25"/><circle cx="343.02" cy="498.66" r="2.25"/><circle cx="320.77" cy="471.82" r="2.25"/><circle cx="333.18" cy="434.82" r="2.25"/><circle cx="344.94" cy="456.59" r="2.25"/><circle cx="325.81" cy="507.87" r="2.25"/><circle cx="331.47" cy="496.17" r="2.25"/><circle cx="350.3" cy="466.86" r="2.25"/><circle cx="342.31" cy="412.4" r="2.25"/><circle cx="329.57" cy="464.75" r="2.25"/><circle cx="325.58" cy="437.83" r="2.25"/><circle cx="320.45" cy="432" r="2.25"/><circle cx="349.51" cy="431.93" r="2.25"/><circle cx="323.24" cy="494.97" r="2.25"/><circle cx="345.05" cy="514.69" r="2.25"/><circle cx="336.91" cy="472.28" r="2.25"/><circle cx="353.27" cy="458.81" r="2.25"/><circle cx="349.89" cy="491.12" r="2.25"/><circle cx="347.55" cy="478.18" r="2.25"/><circle cx="351.93" cy="515.4" r="2.25"/><circle cx="348.82" cy="501.99" r="2.25"/><circle cx="339.09" cy="465.77" r="2.25"/><circle cx="325.82" cy="430.8" r="2.25"/><circle cx="331.11" cy="490.31" r="2.25"/><circle cx="323.02" cy="490.88" r="2.25"/><circle cx="336.47" cy="444.14" r="2.25"/><circle cx="332.77" cy="447.34" r="2.25"/><circle cx="324.04" cy="480.77" r="2.25"/><circle cx="336.28" cy="415.39" r="2.25"/><circle cx="348.94" cy="451.13" r="2.25"/><circle cx="320.82" cy="482.73" r="2.25"/><circle cx="344.82" cy="498.67" r="2.25"/><circle cx="339.8" cy="473.48" r="2.25"/><circle cx="320.76" cy="412.57" r="2.25"/><circle cx="347.9" cy="502.18" r="2.25"/><circle cx="341.59" cy="492.63" r="2.25"/><circle cx="333.33" cy="464.16" r="2.25"/><circle cx="330.66" cy="487.26" r="2.25"/><circle cx="333.89" cy="449.67" r="2.25"/><circle cx="329.22" cy="502.96" r="2.25"/><circle cx="345.56" cy="488.18" r="2.25"/><circle cx="352.91" cy="461.53" r="2.25"/><circle cx="345.3" cy="487.92" r="2.25"/><circle cx="348.84" cy="515.25" r="2.25"/><circle cx="325.24" cy="515.01" r="2.25"/><circle cx="343.71" cy="444.92" r="2.25"/><circle cx="326.59" cy="479.86" r="2.25"/><circle cx="349.19" cy="458.11" r="2.25"/><circle cx="323.5" cy="499.92" r="2.25"/><circle cx="325.8" cy="511.61" r="2.25"/><circle cx="334.39" cy="517.49" r="2.25"/><circle cx="352.07" cy="477.03" r="2.25"/><circle cx="338" cy="451.89" r="2.25"/><circle cx="346.78" cy="432.04" r="2.25"/><circle cx="333.68" cy="487.95" r="2.25"/><circle cx="334.58" cy="524.02" r="2.25"/><circle cx="334.18" cy="445.88" r="2.25"/><circle cx="354.18" cy="435.63" r="2.25"/><circle cx="343.11" cy="456.3" r="2.25"/><circle cx="321.04" cy="487.99" r="2.25"/><circle cx="332.17" cy="451.49" r="2.25"/><circle cx="324.06" cy="482.67" r="2.25"/><circle cx="337.92" cy="435.76" r="2.25"/><circle cx="348.78" cy="455.98" r="2.25"/><circle cx="325.85" cy="438.27" r="2.25"/><circle cx="351.46" cy="463.19" r="2.25"/><circle cx="332.53" cy="468.65" r="2.25"/><circle cx="325.28" cy="444.33" r="2.25"/><circle cx="354.34" cy="466.87" r="2.25"/><circle cx="345.01" cy="430.39" r="2.25"/><circle cx="327.18" cy="417.91" r="2.25"/><circle cx="341.97" cy="503.19" r="2.25"/><circle cx="323.26" cy="497.86" r="2.25"/><circle cx="340.23" cy="446.2" r="2.25"/><circle cx="331.72" cy="419.72" r="2.25"/><circle cx="332.82" cy="472.92" r="2.25"/><circle cx="324.67" cy="414.63" r="2.25"/><circle cx="325.06" cy="422.57" r="2.25"/><circle cx="339.09" cy="461.77" r="2.25"/><circle cx="339.67" cy="495.6" r="2.25"/><circle cx="351.68" cy="412.52" r="2.25"/><circle cx="348.52" cy="457.11" r="2.25"/><circle cx="324.62" cy="431.64" r="2.25"/><circle cx="330.33" cy="423.37" r="2.25"/><circle cx="328.69" cy="460.3" r="2.25"/><circle cx="348.98" cy="504.6" r="2.25"/><circle cx="339.25" cy="517.08" r="2.25"/><circle cx="321.5" cy="505.23" r="2.25"/><circle cx="354.35" cy="418.53" r="2.25"/><circle cx="343.05" cy="490.66" r="2.25"/><circle cx="343.49" cy="441.56" r="2.25"/><circle cx="333.53" cy="458.21" r="2.25"/><circle cx="348.05" cy="523.92" r="2.25"/><circle cx="327.26" cy="472.35" r="2.25"/><circle cx="325.32" cy="481.67" r="2.25"/><circle cx="339.99" cy="505.95" r="2.25"/><circle cx="338.28" cy="495.68" r="2.25"/><circle cx="339.94" cy="487.87" r="2.25"/><circle cx="342.47" cy="521.46" r="2.25"/><circle cx="343.48" cy="509.26" r="2.25"/><circle cx="353.4" cy="457.27" r="2.25"/><circle cx="336.56" cy="478.81" r="2.25"/><circle cx="341.86" cy="447.09" r="2.25"/><circle cx="346.47" cy="439.96" r="2.25"/><circle cx="337.11" cy="412.23" r="2.25"/><circle cx="349.23" cy="428.17" r="2.25"/><circle cx="334.47" cy="476.24" r="2.25"/><circle cx="339.87" cy="422.43" r="2.25"/><circle cx="338.49" cy="465.85" r="2.25"/><circle cx="335.27" cy="422.54" r="2.25"/><circle cx="331.43" cy="519.54" r="2.25"/><circle cx="345.36" cy="423.02" r="2.25"/><circle cx="345.58" cy="457.57" r="2.25"/><circle cx="346.26" cy="490.99" r="2.25"/><circle cx="340.81" cy="517.81" r="2.25"/><circle cx="324.68" cy="474.76" r="2.25"/><circle cx="337.69" cy="480.49" r="2.25"/><circle cx="322.19" cy="446.45" r="2.25"/><circle cx="338.5" cy="498.48" r="2.25"/><circle cx="330.94" cy="480.63" r="2.25"/><circle cx="328.51" cy="517.97" r="2.25"/><circle cx="351.75" cy="415.44" r="2.25"/><circle cx="343.3" cy="426.86" r="2.25"/><circle cx="334.9" cy="433.85" r="2.25"/><circle cx="328.03" cy="440.54" r="2.25"/><circle cx="339.9" cy="422.64" r="2.25"/><circle cx="323.79" cy="435.32" r="2.25"/><circle cx="324.66" cy="464.41" r="2.25"/><circle cx="353.11" cy="525.72" r="2.25"/><circle cx="328.79" cy="491.62" r="2.25"/><circle cx="331.57" cy="518.63" r="2.25"/><circle cx="351.19" cy="432.69" r="2.25"/><circle cx="334.06" cy="485.08" r="2.25"/><circle cx="340.54" cy="520.54" r="2.25"/><circle cx="321.47" cy="423.2" r="2.25"/><circle cx="330.99" cy="468.88" r="2.25"/><circle cx="352.53" cy="414.21" r="2.25"/><circle cx="336.66" cy="502.21" r="2.25"/><circle cx="330.56" cy="420.45" r="2.25"/><circle cx="351.25" cy="503.46" r="2.25"/><circle cx="349.22" cy="485.35" r="2.25"/><circle cx="336.65" cy="506.16" r="2.25"/><circle cx="350.66" cy="412.14" r="2.25"/><circle cx="327.35" cy="453.58" r="2.25"/><circle cx="326.99" cy="425.3" r="2.25"/><circle cx="322.12" cy="513.67" r="2.25"/><circle cx="345.37" cy="490.05" r="2.25"/><circle cx="351.37" cy="426.51" r="2.25"/><circle cx="344.93" cy="510.38" r="2.25"/><circle cx="344.34" cy="418.72" r="2.25"/><circle cx="335.71" cy="516.77" r="2.25"/><circle cx="328.08" cy="490.72" r="2.25"/><circle cx="344.84" cy="503.35" r="2.25"/><circle cx="326.63" cy="498.9" r="2.25"/><circle cx="343.26" cy="435.54" r="2.25"/><circle cx="333.21" cy="450.2" r="2.25"/><circle cx="350.82" cy="458.44" r="2.25"/><circle cx="328.28" cy="491.43" r="2.25"/><circle cx="352.28" cy="449.63" r="2.25"/><circle cx="329.92" cy="452.72" r="2.25"/><circle cx="323.5" cy="413.55" r="2.25"/><circle cx="335.55" cy="465.47" r="2.25"/><circle cx="338.66" cy="520.61" r="2.25"/><circle cx="341.03" cy="493.3" r="2.25"/><circle cx="329.03" cy="434.08" r="2.25"/><circle cx="323.4" cy="493.23" r="2.25"/><circle cx="346.39" cy="497.71" r="2.25"/><circle cx="330" cy="463.21" r="2.25"/><circle cx="326.81" cy="423.37" r="2.25"/><circle cx="354.38" cy="521.95" r="2.25"/><circle cx="336.28" cy="440.09" r="2.25"/><circle cx="333.63" cy="419.69" r="2.25"/><circle cx="337.6" cy="505.25" r="2.25"/><circle cx="339.53" cy="452.15" r="2.25"/><circle cx="332.77" cy="450.63" r="2.25"/><circle cx="347.33" cy="466.79" r="2.25"/><circle cx="337.79" cy="429.27" r="2.25"/><circle cx="343.94" cy="466.36" r="2.25"/><circle cx="353.13" cy="505.93" r="2.25"/><circle cx="347.22" cy="506.93" r="2.25"/><circle cx="341.32" cy="498.91" r="2.25"/><circle cx="335.55" cy="437.53" r="2.25"/><circle cx="347.46" cy="435.46" r="2.25"/><circle cx="328.52" cy="469.94" r="2.25"/><circle cx="328.01" cy="459.56" r="2.25"/><circle cx="337.56" cy="521.75" r="2.25"/><circle cx="340.93" cy="444.19" r="2.25"/><circle cx="340.1" cy="426.13" r="2.25"/><circle cx="326.59" cy="508.45" r="2.25"/><circle cx="321.01" cy="469.14" r="2.25"/><circle cx="335.35" cy="475.36" r="2.25"/><circle cx="329.44" cy="434.62" r="2.25"/><circle cx="322.9" cy="422.2" r="2.25"/><circle cx="339.97" cy="463.76" r="2.25"/><circle cx="347.63" cy="498.61" r="2.25"/><circle cx="325.43" cy="490.28" r="2.25"/><circle cx="321.86" cy="489.89" r="2.25"/><circle cx="341.77" cy="465.79" r="2.25"/><circle cx="329.51" cy="458.57" r="2.25"/><circle cx="323.44" cy="432.1" r="2.25"/><circle cx="326.3" cy="496.69" r="2.25"/><circle cx="325.9" cy="446.93" r="2.25"/><circle cx="348.98" cy="435.97" r="2.25"/><circle cx="322.5" cy="478.9" r="2.25"/><circle cx="332.94" cy="501.08" r="2.25"/><circle cx="353.78" cy="520.97" r="2.25"/><circle cx="337.24" cy="438.87" r="2.25"/><circle cx="354.32" cy="509.28" r="2.25"/><circle cx="336.06" cy="440.74" r="2.25"/><circle cx="321.75" cy="498.31" r="2.25"/><circle cx="351.02" cy="509.62" r="2.25"/><circle cx="333.92" cy="491.75" r="2.25"/><circle cx="335" cy="517.05" r="2.25"/><circle cx="321.58" cy="412.06" r="2.25"/><circle cx="346.66" cy="441.98" r="2.25"/><circle cx="328.31" cy="496.88" r="2.25"/><circle cx="339.38" cy="498.19" r="2.25"/><circle cx="336.28" cy="419.33" r="2.25"/><circle cx="332.92" cy="487.3" r="2.25"/><circle cx="354.15" cy="456.04" r="2.25"/><circle cx="321.76" cy="479.77" r="2.25"/><circle cx="342.75" cy="519.1" r="2.25"/><circle cx="332.21" cy="446.47" r="2.25"/><circle cx="350.13" cy="458.35" r="2.25"/><circle cx="350.89" cy="472.97" r="2.25"/><circle cx="333.92" cy="429.54" r="2.25"/><circle cx="333.51" cy="436.58" r="2.25"/><circle cx="327.81" cy="486.12" r="2.25"/><circle cx="326.72" cy="463.04" r="2.25"/><circle cx="326.04" cy="502.53" r="2.25"/><circle cx="327.78" cy="472.39" r="2.25"/><circle cx="331.01" cy="474.74" r="2.25"/><circle cx="354.57" cy="448.24" r="2.25"/><circle cx="350.08" cy="502.43" r="2.25"/><circle cx="333.57" cy="517.47" r="2.25"/><circle cx="344.18" cy="484.36" r="2.25"/><circle cx="329.84" cy="523.66" r="2.25"/><circle cx="326.66" cy="495.83" r="2.25"/><circle cx="333.92" cy="420.34" r="2.25"/><circle cx="345" cy="495.12" r="2.25"/><circle cx="332.82" cy="508.26" r="2.25"/><circle cx="352.62" cy="484.71" r="2.25"/><circle cx="346.74" cy="443.19" r="2.25"/><circle cx="351.6" cy="523.45" r="2.25"/><circle cx="331.48" cy="481.9" r="2.25"/><circle cx="323.26" cy="425.04" r="2.25"/><circle cx="331.59" cy="437.79" r="2.25"/><circle cx="338.26" cy="519.51" r="2.25"/><circle cx="333.95" cy="498.58" r="2.25"/><circle cx="321.8" cy="508.56" r="2.25"/><circle cx="340.88" cy="522.16" r="2.25"/><circle cx="331.14" cy="477.37" r="2.25"/><circle cx="339.11" cy="510.26" r="2.25"/><circle cx="344.71" cy="496.06" r="2.25"/><circle cx="345.36" cy="449.73" r="2.25"/><circle cx="325.46" cy="502.4" r="2.25"/><circle cx="330.04" cy="444.41" r="2.25"/><circle cx="334.34" cy="481.66" r="2.25"/><circle cx="350.19" cy="499.98" r="2.25"/><circle cx="330.45" cy="486.4" r="2.25"/><circle cx="327.82" cy="521.14" r="2.25"/><circle cx="321.24" cy="453.81" r="2.25"/><circle cx="339.87" cy="433.45" r="2.25"/><circle cx="353.96" cy="491.75" r="2.25"/><circle cx="343.46" cy="420.86" r="2.25"/><circle cx="327.84" cy="447.1" r="2.25"/><circle cx="343.33" cy="416.74" r="2.25"/><circle cx="350.27" cy="499" r="2.25"/><circle cx="342.16" cy="515.52" r="2.25"/><circle cx="335.11" cy="480.98" r="2.25"/><circle cx="322.47" cy="482.02" r="2.25"/><circle cx="331.69" cy="469.03" r="2.25"/><circle cx="330.03" cy="507.68" r="2.25"/><circle cx="334.24" cy="471.53" r="2.25"/><circle cx="326.13" cy="449.84" r="2.25"/><circle cx="328.65" cy="515.16" r="2.25"/><circle cx="332.16" cy="477.57" r="2.25"/><circle cx="325.59" cy="459.27" r="2.25"/><circle cx="344.53" cy="462.63" r="2.25"/><circle cx="344.48" cy="523.15" r="2.25"/><circle cx="333.86" cy="484.19" r="2.25"/><circle cx="322.56" cy="479.62" r="2.25"/><circle cx="322.28" cy="469.21" r="2.25"/><circle cx="340.55" cy="472.25" r="2.25"/><circle cx="331.6" cy="496.86" r="2.25"/><circle cx="321.21" cy="486.16" r="2.25"/><circle cx="351.07" cy="461.2" r="2.25"/><circle cx="329.41" cy="449.51" r="2.25"/><circle cx="326.8" cy="472.21" r="2.25"/><circle cx="341.56" cy="416.79" r="2.25"/><circle cx="332.87" cy="460" r="2.25"/><circle cx="352.82" cy="437.71" r="2.25"/><circle cx="341.98" cy="454.91" r="2.25"/><circle cx="334.54" cy="478.34" r="2.25"/><circle cx="329.9" cy="431.07" r="2.25"/><circle cx="350.66" cy="482.19" r="2.25"/><circle cx="351.69" cy="521.43" r="2.25"/><circle cx="325.07" cy="467.89" r="2.25"/><circle cx="331.02" cy="484.64" r="2.25"/><circle cx="354.01" cy="508.67" r="2.25"/><circle cx="327.02" cy="499.7" r="2.25"/><circle cx="343.8" cy="499.01" r="2.25"/><circle cx="320.43" cy="463.7" r="2.25"/><circle cx="333.95" cy="498.46" r="2.25"/><circle cx="337.38" cy="451.56" r="2.25"/><circle cx="339.25" cy="454.5" r="2.25"/><circle cx="339.69" cy="430.9" r="2.25"/><circle cx="353.73" cy="487.71" r="2.25"/><circle cx="332.32" cy="424.59" r="2.25"/><circle cx="331.18" cy="444.05" r="2.25"/><circle cx="344.32" cy="447.4" r="2.25"/><circle cx="353.56" cy="431.67" r="2.25"/><circle cx="325.89" cy="454.82" r="2.25"/><circle cx="337.28" cy="461.41" r="2.25"/><circle cx="333.11" cy="493.16" r="2.25"/><circle cx="346.16" cy="464.82" r="2.25"/><circle cx="328.55" cy="497.32" r="2.25"/><circle cx="331.58" cy="505.49" r="2.25"/><circle cx="338.07" cy="511.4" r="2.25"/><circle cx="322.58" cy="517.94" r="2.25"/><circle cx="323.92" cy="445.32" r="2.25"/><circle cx="324.28" cy="474.23" r="2.25"/><circle cx="346.96" cy="470.9" r="2.25"/><circle cx="325.99" cy="426.88" r="2.25"/><circle cx="350.32" cy="519.68" r="2.25"/><circle cx="329.13" cy="467.85" r="2.25"/><circle cx="347.8" cy="481" r="2.25"/><circle cx="345.03" cy="497.03" r="2.25"/><circle cx="345.02" cy="488.47" r="2.25"/><circle cx="331.88" cy="439.1" r="2.25"/><circle cx="349.39" cy="431.19" r="2.25"/><circle cx="339.92" cy="477.77" r="2.25"/><circle cx="344.72" cy="454.66" r="2.25"/><circle cx="348.98" cy="434.31" r="2.25"/><circle cx="324.71" cy="482.75" r="2.25"/><circle cx="343.42" cy="499.41" r="2.25"/><circle cx="326.75" cy="524.22" r="2.25"/><circle cx="340.54" cy="418.35" r="2.25"/><circle cx="353.78" cy="510.51" r="2.25"/><circle cx="344.05" cy="477.91" r="2.25"/><circle cx="342.12" cy="480.49" r="2.25"/><circle cx="352.51" cy="412.89" r="2.25"/><circle cx="322.08" cy="444.35" r="2.25"/><circle cx="324.47" cy="520.94" r="2.25"/><circle cx="330.24" cy="442.3" r="2.25"/><circle cx="354.58" cy="512.07" r="2.25"/><circle cx="331.75" cy="522.76" r="2.25"/><circle cx="339.06" cy="470.64" r="2.25"/><circle cx="333.25" cy="490.48" r="2.25"/><circle cx="347.93" cy="430.03" r="2.25"/><circle cx="330.16" cy="481.07" r="2.25"/><circle cx="341.65" cy="438.4" r="2.25"/><circle cx="354.14" cy="481.33" r="2.25"/><circle cx="344.27" cy="463.45" r="2.25"/><circle cx="347.92" cy="509.01" r="2.25"/><circle cx="326.42" cy="513.55" r="2.25"/><circle cx="352.51" cy="497.08" r="2.25"/><circle cx="337.2" cy="512.04" r="2.25"/><circle cx="331.53" cy="523.59" r="2.25"/><circle cx="339.87" cy="509.38" r="2.25"/><circle cx="341.91" cy="494.5" r="2.25"/><circle cx="328.23" cy="470.73" r="2.25"/><circle cx="332.98" cy="496.15" r="2.25"/><circle cx="322.16" cy="518.43" r="2.25"/><circle cx="351.11" cy="490.47" r="2.25"/><circle cx="323.1" cy="504.95" r="2.25"/><circle cx="337.03" cy="411.94" r="2.25"/><circle cx="327.36" cy="426.77" r="2.25"/><circle cx="337.06" cy="478.45" r="2.25"/><circle cx="348.16" cy="480.58" r="2.25"/><circle cx="322.38" cy="462.93" r="2.25"/><circle cx="343" cy="454.65" r="2.25"/><circle cx="329.93" cy="418.59" r="2.25"/><circle cx="350.14" cy="412.27" r="2.25"/><circle cx="335.65" cy="430.6" r="2.25"/><circle cx="345.34" cy="505.71" r="2.25"/><circle cx="321.32" cy="506.51" r="2.25"/><circle cx="324.49" cy="517.26" r="2.25"/><circle cx="332.75" cy="439.75" r="2.25"/><circle cx="331.06" cy="467.07" r="2.25"/><circle cx="320.76" cy="501.79" r="2.25"/><circle cx="353.4" cy="524.52" r="2.25"/><circle cx="338.54" cy="433.3" r="2.25"/><circle cx="347.65" cy="441.82" r="2.25"/><circle cx="334.13" cy="434.1" r="2.25"/><circle cx="348.87" cy="438.14" r="2.25"/><circle cx="354.31" cy="514.27" r="2.25"/><circle cx="353.09" cy="479.86" r="2.25"/><circle cx="344.66" cy="497.19" r="2.25"/><circle cx="351.69" cy="523.1" r="2.25"/><circle cx="340.24" cy="499.84" r="2.25"/><circle cx="333.76" cy="483.62" r="2.25"/><circle cx="343" cy="433.22" r="2.25"/><circle cx="332.94" cy="452.94" r="2.25"/><circle cx="332.58" cy="493.91" r="2.25"/><circle cx="351.54" cy="489.06" r="2.25"/><circle cx="323.64" cy="487.56" r="2.25"/><circle cx="345.91" cy="501.66" r="2.25"/><circle cx="345.96" cy="463.42" r="2.25"/><circle cx="343.8" cy="505.54" r="2.25"/><circle cx="324.04" cy="509.46" r="2.25"/><circle cx="332.45" cy="476.61" r="2.25"/><circle cx="320.72" cy="468.41" r="2.25"/><circle cx="334.27" cy="489.08" r="2.25"/><circle cx="338.88" cy="417.06" r="2.25"/><circle cx="327.44" cy="425.26" r="2.25"/><circle cx="331.44" cy="439.69" r="2.25"/><circle cx="324.13" cy="413.04" r="2.25"/><circle cx="335.19" cy="415.88" r="2.25"/><circle cx="327.95" cy="479.18" r="2.25"/><circle cx="344.69" cy="505.48" r="2.25"/><circle cx="329.8" cy="448.47" r="2.25"/><circle cx="353" cy="489" r="2.25"/><circle cx="326.71" cy="485" r="2.25"/><circle cx="354.44" cy="508.87" r="2.25"/><circle cx="342.23" cy="482.61" r="2.25"/><circle cx="342.55" cy="501.55" r="2.25"/><circle cx="341.6" cy="424.45" r="2.25"/><circle cx="349.86" cy="454.02" r="2.25"/><circle cx="337.77" cy="460.97" r="2.25"/><circle cx="324.33" cy="430.17" r="2.25"/><circle cx="344.13" cy="474.04" r="2.25"/><circle cx="343.29" cy="477.91" r="2.25"/><circle cx="333.63" cy="499.52" r="2.25"/><circle cx="341.06" cy="460.39" r="2.25"/><circle cx="338.12" cy="522.11" r="2.25"/><circle cx="341.98" cy="474.77" r="2.25"/><circle cx="340.81" cy="457.9" r="2.25"/><circle cx="352.45" cy="508.44" r="2.25"/><circle cx="336.52" cy="412.43" r="2.25"/><circle cx="345.79" cy="490.05" r="2.25"/><circle cx="345.74" cy="412.82" r="2.25"/><circle cx="334.23" cy="426.75" r="2.25"/><circle cx="324.76" cy="412.75" r="2.25"/><circle cx="337.29" cy="499.05" r="2.25"/><circle cx="349.3" cy="451.66" r="2.25"/><circle cx="352.65" cy="431.11" r="2.25"/><circle cx="347.84" cy="467.38" r="2.25"/><circle cx="354.58" cy="518.38" r="2.25"/><circle cx="350.33" cy="444.54" r="2.25"/><circle cx="329.02" cy="433.63" r="2.25"/><circle cx="336.02" cy="464.55" r="2.25"/><circle cx="350.17" cy="503.41" r="2.25"/><circle cx="330.02" cy="452.29" r="2.25"/><circle cx="322.93" cy="462.42" r="2.25"/><circle cx="347.48" cy="469.76" r="2.25"/><circle cx="328.72" cy="434.45" r="2.25"/><circle cx="349.81" cy="437.78" r="2.25"/><circle cx="339.29" cy="422.38" r="2.25"/><circle cx="347.81" cy="508.46" r="2.25"/><circle cx="332.98" cy="514.33" r="2.25"/><circle cx="321.67" cy="486.31" r="2.25"/><circle cx="350.15" cy="430.58" r="2.25"/><circle cx="324.44" cy="505.04" r="2.25"/><circle cx="333.77" cy="428.83" r="2.25"/><circle cx="341.63" cy="422.83" r="2.25"/><circle cx="322.87" cy="413" r="2.25"/><circle cx="327.51" cy="453.95" r="2.25"/><circle cx="350.55" cy="442.71" r="2.25"/><circle cx="327.18" cy="449.47" r="2.25"/><circle cx="335.22" cy="524.03" r="2.25"/><circle cx="332.08" cy="489.78" r="2.25"/><circle cx="342.06" cy="493.98" r="2.25"/><circle cx="361.54" cy="446.45" r="2.25"/><circle cx="355.58" cy="511.17" r="2.25"/><circle cx="362.82" cy="472.53" r="2.25"/><circle cx="354.86" cy="512.54" r="2.25"/><circle cx="366.31" cy="456.14" r="2.25"/><circle cx="358.08" cy="503.39" r="2.25"/><circle cx="367.07" cy="446.82" r="2.25"/><circle cx="363.42" cy="484.65" r="2.25"/><circle cx="357.41" cy="479.17" r="2.25"/><circle cx="355.1" cy="453.72" r="2.25"/><circle cx="359.03" cy="432.15" r="2.25"/><circle cx="358.81" cy="473.63" r="2.25"/><circle cx="360.18" cy="418.28" r="2.25"/><circle cx="357.92" cy="445.45" r="2.25"/><circle cx="356.35" cy="459.65" r="2.25"/><circle cx="357.05" cy="426.16" r="2.25"/><circle cx="357.08" cy="428.23" r="2.25"/><circle cx="362.58" cy="473.85" r="2.25"/><circle cx="366.21" cy="481.53" r="2.25"/><circle cx="363.52" cy="457.14" r="2.25"/><circle cx="359.36" cy="518.45" r="2.25"/><circle cx="358.95" cy="493.67" r="2.25"/><circle cx="359.26" cy="416.81" r="2.25"/><circle cx="357.17" cy="446.45" r="2.25"/><circle cx="362.52" cy="497.84" r="2.25"/><circle cx="358.84" cy="510.69" r="2.25"/><circle cx="365.67" cy="497.05" r="2.25"/><circle cx="358.97" cy="486.79" r="2.25"/><circle cx="364.61" cy="428.71" r="2.25"/><circle cx="361.37" cy="463.46" r="2.25"/><circle cx="354.44" cy="423.43" r="2.25"/><circle cx="354.28" cy="484.27" r="2.25"/><circle cx="358.32" cy="443.23" r="2.25"/><circle cx="362.48" cy="486.52" r="2.25"/><circle cx="365.71" cy="417.36" r="2.25"/><circle cx="353.36" cy="453.52" r="2.25"/><circle cx="359.66" cy="484.48" r="2.25"/><circle cx="359.59" cy="489.7" r="2.25"/><circle cx="362.5" cy="456.65" r="2.25"/><circle cx="366.73" cy="414.3" r="2.25"/><circle cx="367.04" cy="480.67" r="2.25"/><circle cx="364.73" cy="451.58" r="2.25"/><circle cx="362.93" cy="411.89" r="2.25"/><circle cx="353.97" cy="473.01" r="2.25"/><circle cx="358.7" cy="450.88" r="2.25"/><circle cx="356.11" cy="412.79" r="2.25"/><circle cx="355.99" cy="483.55" r="2.25"/><circle cx="355.05" cy="480.73" r="2.25"/><circle cx="363.5" cy="516.25" r="2.25"/><circle cx="355.39" cy="451.7" r="2.25"/><circle cx="361.83" cy="441.07" r="2.25"/><circle cx="356.61" cy="433.17" r="2.25"/><circle cx="363.35" cy="437.19" r="2.25"/><circle cx="354.72" cy="472.28" r="2.25"/><circle cx="353.26" cy="427.64" r="2.25"/><circle cx="366.36" cy="423.51" r="2.25"/><circle cx="353.38" cy="485.7" r="2.25"/><circle cx="360.6" cy="464.86" r="2.25"/><circle cx="354.6" cy="435.68" r="2.25"/><circle cx="357.29" cy="467.86" r="2.25"/><circle cx="354.79" cy="460.95" r="2.25"/><circle cx="354.86" cy="515.7" r="2.25"/><circle cx="360.26" cy="492.22" r="2.25"/><circle cx="364.01" cy="497.61" r="2.25"/><circle cx="358.88" cy="519.58" r="2.25"/><circle cx="356.11" cy="474.22" r="2.25"/><circle cx="360.91" cy="473.34" r="2.25"/><circle cx="365.04" cy="513.87" r="2.25"/><circle cx="365.03" cy="508.11" r="2.25"/><circle cx="366.73" cy="465.85" r="2.25"/><circle cx="358.77" cy="455.89" r="2.25"/><circle cx="365.22" cy="415.75" r="2.25"/><circle cx="358.87" cy="524.56" r="2.25"/><circle cx="355.2" cy="432.35" r="2.25"/><circle cx="363.4" cy="444.43" r="2.25"/><circle cx="355.24" cy="465.15" r="2.25"/><circle cx="353.44" cy="513.2" r="2.25"/><circle cx="357.28" cy="415.47" r="2.25"/><circle cx="362.11" cy="429.01" r="2.25"/><circle cx="353.68" cy="478.27" r="2.25"/><circle cx="354.14" cy="496.01" r="2.25"/><circle cx="354.61" cy="420.88" r="2.25"/><circle cx="357.67" cy="469.96" r="2.25"/><circle cx="362.26" cy="424.55" r="2.25"/><circle cx="366.39" cy="460.95" r="2.25"/><circle cx="360.1" cy="422.59" r="2.25"/><circle cx="358.6" cy="491.61" r="2.25"/><circle cx="363.47" cy="496.3" r="2.25"/><circle cx="358.23" cy="476.78" r="2.25"/><circle cx="359.76" cy="484.86" r="2.25"/><circle cx="370.58" cy="474.31" r="2.25"/><circle cx="365.2" cy="430.38" r="2.25"/><circle cx="365.37" cy="465.52" r="2.25"/><circle cx="372.23" cy="480.15" r="2.25"/><circle cx="367.64" cy="514.46" r="2.25"/><circle cx="369.75" cy="489.89" r="2.25"/><circle cx="371.33" cy="499.49" r="2.25"/><circle cx="375.08" cy="470.14" r="2.25"/><circle cx="364.63" cy="479.36" r="2.25"/><circle cx="378.14" cy="524.98" r="2.25"/><circle cx="372.87" cy="416.09" r="2.25"/><circle cx="369.66" cy="457.51" r="2.25"/><circle cx="369.71" cy="491.4" r="2.25"/><circle cx="373.1" cy="458.49" r="2.25"/><circle cx="368.95" cy="468.97" r="2.25"/><circle cx="371.78" cy="439.73" r="2.25"/><circle cx="365.25" cy="515.19" r="2.25"/><circle cx="368.06" cy="494.94" r="2.25"/><circle cx="375.73" cy="477.2" r="2.25"/><circle cx="376.64" cy="479.86" r="2.25"/><circle cx="368.53" cy="448.16" r="2.25"/><circle cx="365.71" cy="413.43" r="2.25"/><circle cx="384.69" cy="488.32" r="2.25"/><circle cx="379.02" cy="432.24" r="2.25"/><circle cx="384.22" cy="452.46" r="2.25"/><circle cx="376.15" cy="438.61" r="2.25"/><circle cx="376.05" cy="454.46" r="2.25"/><circle cx="415.78" cy="419.91" r="2.25"/><circle cx="420.02" cy="523.23" r="2.25"/><circle cx="434.49" cy="439.85" r="2.25"/><circle cx="417.14" cy="525.15" r="2.25"/><circle cx="424.83" cy="478.02" r="2.25"/><circle cx="422.02" cy="413.48" r="2.25"/><circle cx="433.63" cy="517.23" r="2.25"/><circle cx="427.01" cy="475.49" r="2.25"/><circle cx="425.54" cy="482.65" r="2.25"/><circle cx="410.67" cy="475.91" r="2.25"/><circle cx="394.53" cy="489.26" r="2.25"/><circle cx="424.72" cy="517.63" r="2.25"/><circle cx="394.43" cy="430.57" r="2.25"/><circle cx="421.37" cy="463.21" r="2.25"/><circle cx="394.3" cy="512.27" r="2.25"/><circle cx="403.93" cy="416.88" r="2.25"/><circle cx="416.18" cy="420.49" r="2.25"/><circle cx="399.09" cy="478.42" r="2.25"/><circle cx="415.01" cy="429.97" r="2.25"/><circle cx="394.79" cy="426.03" r="2.25"/><circle cx="411.88" cy="522.2" r="2.25"/><circle cx="409.9" cy="482.68" r="2.25"/><circle cx="421.77" cy="419.82" r="2.25"/><circle cx="412.92" cy="447.06" r="2.25"/><circle cx="407.75" cy="436.89" r="2.25"/><circle cx="393.91" cy="441.03" r="2.25"/><circle cx="396.91" cy="458.9" r="2.25"/><circle cx="398.65" cy="486.25" r="2.25"/><circle cx="396.78" cy="485.85" r="2.25"/><circle cx="417.7" cy="466.42" r="2.25"/><circle cx="407.78" cy="460.22" r="2.25"/><circle cx="429.99" cy="484.88" r="2.25"/><circle cx="417.33" cy="470.93" r="2.25"/><circle cx="436.76" cy="488.33" r="2.25"/><circle cx="422.89" cy="499.12" r="2.25"/><circle cx="401.54" cy="442.39" r="2.25"/><circle cx="416.9" cy="496.44" r="2.25"/><circle cx="391.9" cy="431.61" r="2.25"/><circle cx="407.24" cy="443.99" r="2.25"/><circle cx="409.94" cy="455.27" r="2.25"/><circle cx="416.14" cy="414.39" r="2.25"/><circle cx="433.28" cy="473.75" r="2.25"/><circle cx="412.58" cy="499.37" r="2.25"/><circle cx="425.62" cy="514.1" r="2.25"/><circle cx="403.76" cy="429.03" r="2.25"/><circle cx="390.47" cy="446.04" r="2.25"/><circle cx="416.56" cy="462.82" r="2.25"/><circle cx="405.06" cy="508.48" r="2.25"/><circle cx="435.3" cy="438.48" r="2.25"/><circle cx="428.2" cy="514.63" r="2.25"/><circle cx="427.14" cy="500.84" r="2.25"/><circle cx="398.51" cy="464.71" r="2.25"/><circle cx="418.61" cy="511.99" r="2.25"/><circle cx="426.2" cy="459.29" r="2.25"/><circle cx="432.78" cy="420.3" r="2.25"/><circle cx="422.5" cy="484.22" r="2.25"/><circle cx="435.31" cy="443.75" r="2.25"/><circle cx="402.99" cy="427.87" r="2.25"/><circle cx="424.34" cy="495.56" r="2.25"/><circle cx="400.95" cy="523.46" r="2.25"/><circle cx="415.05" cy="496.83" r="2.25"/><circle cx="403.1" cy="496.91" r="2.25"/><circle cx="395.19" cy="470.43" r="2.25"/><circle cx="402.1" cy="493.24" r="2.25"/><circle cx="402.34" cy="467.65" r="2.25"/><circle cx="431.53" cy="507.5" r="2.25"/><circle cx="430.83" cy="428.2" r="2.25"/><circle cx="418.59" cy="463.7" r="2.25"/><circle cx="424.68" cy="464.76" r="2.25"/><circle cx="421.06" cy="420.83" r="2.25"/><circle cx="426.7" cy="496.12" r="2.25"/><circle cx="391.41" cy="418.85" r="2.25"/><circle cx="406.51" cy="435.9" r="2.25"/><circle cx="400.18" cy="474.08" r="2.25"/><circle cx="406.89" cy="442.53" r="2.25"/><circle cx="434.95" cy="468.06" r="2.25"/><circle cx="416.46" cy="485.97" r="2.25"/><circle cx="400.12" cy="417.34" r="2.25"/><circle cx="394.15" cy="418.41" r="2.25"/><circle cx="420.92" cy="517.59" r="2.25"/><circle cx="432.9" cy="514.14" r="2.25"/><circle cx="416.43" cy="512.12" r="2.25"/><circle cx="437.16" cy="490.47" r="2.25"/><circle cx="431.45" cy="518.77" r="2.25"/><circle cx="421.37" cy="518.03" r="2.25"/><circle cx="390.21" cy="460.6" r="2.25"/><circle cx="436.86" cy="447.56" r="2.25"/><circle cx="430.62" cy="436.18" r="2.25"/><circle cx="414.27" cy="516.97" r="2.25"/><circle cx="414.55" cy="504.71" r="2.25"/><circle cx="414.54" cy="485.34" r="2.25"/><circle cx="413.18" cy="503.23" r="2.25"/><circle cx="423.27" cy="478.14" r="2.25"/><circle cx="412.54" cy="516.8" r="2.25"/><circle cx="412.59" cy="462.13" r="2.25"/><circle cx="436.36" cy="461.68" r="2.25"/><circle cx="395.36" cy="491.51" r="2.25"/><circle cx="405.18" cy="445.63" r="2.25"/><circle cx="434.71" cy="414.35" r="2.25"/><circle cx="435.26" cy="420.14" r="2.25"/><circle cx="430.79" cy="419.04" r="2.25"/><circle cx="389.74" cy="469.88" r="2.25"/><circle cx="417.67" cy="447.5" r="2.25"/><circle cx="418.75" cy="455.78" r="2.25"/><circle cx="434.44" cy="515.92" r="2.25"/><circle cx="414.17" cy="416.24" r="2.25"/><circle cx="390.31" cy="513.03" r="2.25"/><circle cx="431.3" cy="416.51" r="2.25"/><circle cx="389.93" cy="522.13" r="2.25"/><circle cx="429.37" cy="447.18" r="2.25"/><circle cx="414.2" cy="459.56" r="2.25"/><circle cx="425.83" cy="433.56" r="2.25"/><circle cx="388.79" cy="518.03" r="2.25"/><circle cx="427.63" cy="414.43" r="2.25"/><circle cx="429.55" cy="479.25" r="2.25"/><circle cx="405.18" cy="486.2" r="2.25"/><circle cx="389.49" cy="437.85" r="2.25"/><circle cx="401.59" cy="458.92" r="2.25"/><circle cx="414.51" cy="487.49" r="2.25"/><circle cx="421.79" cy="473.85" r="2.25"/><circle cx="400.23" cy="425.1" r="2.25"/><circle cx="397.36" cy="508.66" r="2.25"/><circle cx="401.16" cy="471.1" r="2.25"/><circle cx="427.12" cy="487.78" r="2.25"/><circle cx="400.42" cy="451.08" r="2.25"/>
</g>
<line x1="320.4" y1="468.7" x2="452.7" y2="468.7" stroke="#444" stroke-width="1"/>
<rect x="452.7" y="412.37" width="43.16" height="9.92" fill="#9b30f5"/>
<rect x="452.7" y="423.78" width="67.32" height="9.92" fill="#9b30f5"/>
<rect x="452.7" y="435.2" width="92.66" height="9.92" fill="#9b30f5"/>
<rect x="452.7" y="446.62" width="105.34" height="9.92" fill="#9b30f5"/>
<rect x="452.7" y="458.03" width="115.63" height="9.92" fill="#9b30f5"/>
<rect x="452.7" y="469.45" width="121.97" height="9.92" fill="#9b30f5"/>
<rect x="452.7" y="480.87" width="94.25" height="9.92" fill="#9b30f5"/>
<rect x="452.7" y="492.28" width="64.15" height="9.92" fill="#9b30f5"/>
<rect x="452.7" y="503.7" width="67.32" height="9.92" fill="#9b30f5"/>
<rect x="452.7" y="515.12" width="46.73" height="9.92" fill="#9b30f5"/>
<path d="M459.28,400.2 L460.29,401.91 L461.43,403.62 L462.71,405.34 L464.13,407.05 L465.7,408.76 L467.44,410.47 L469.35,412.19 L471.43,413.9 L473.71,415.61 L476.18,417.32 L478.84,419.04 L481.7,420.75 L484.75,422.46 L488,424.18 L491.44,425.89 L495.07,427.6 L498.86,429.31 L502.82,431.02 L506.92,432.74 L511.14,434.45 L515.46,436.16 L519.87,437.88 L524.32,439.59 L528.8,441.3 L533.26,443.01 L537.68,444.73 L542.02,446.44 L546.24,448.15 L550.31,449.86 L554.19,451.57 L557.85,453.29 L561.25,455 L564.35,456.71 L567.13,458.43 L569.56,460.14 L571.61,461.85 L573.26,463.56 L574.5,465.28 L575.31,466.99 L575.68,468.7 L575.6,470.41 L575.09,472.12 L574.14,473.84 L572.76,475.55 L570.97,477.26 L568.79,478.98 L566.24,480.69 L563.35,482.4 L560.15,484.11 L556.66,485.83 L552.92,487.54 L548.97,489.25 L544.85,490.96 L540.58,492.68 L536.21,494.39 L531.77,496.1 L527.3,497.81 L522.83,499.53 L518.39,501.24 L514.01,502.95 L509.72,504.66 L505.54,506.38 L501.48,508.09 L497.58,509.8 L493.84,511.51 L490.28,513.23 L486.9,514.94 L483.71,516.65 L480.72,518.36 L477.93,520.08 L475.33,521.79 L472.93,523.5 L470.72,525.21 L468.69,526.93 L466.84,528.64 L465.16,530.35 L463.64,532.06 L462.27,533.78 L461.04,535.49 L459.94,537.2" fill="none" stroke="#6a22b0" stroke-width="1.8" clip-path="url(#cpH)"/>
<rect x="320.4" y="400.2" width="290.7" height="137" fill="none" stroke="#5a5a5a" stroke-width="1.4"/>
<line x1="452.7" y1="400.2" x2="452.7" y2="537.2" stroke="#555" stroke-width="1.2"/>
<path d="M342.45,537.2v-3M364.5,537.2v-3M386.55,537.2v-3M408.6,537.2v-3M430.65,537.2v-3M320.4,423.03h3M320.4,445.87h3M320.4,468.7h3M320.4,491.53h3M320.4,514.37h3" stroke="#555" stroke-width="1.2" fill="none"/>
<text x="320.4" y="550.8" font-size="12.5" text-anchor="middle" fill="#262626" stroke="#262626" stroke-width="0.25">0</text>
<text x="342.45" y="550.8" font-size="12.5" text-anchor="middle" fill="#262626" stroke="#262626" stroke-width="0.25">5</text>
<text x="364.5" y="550.8" font-size="12.5" text-anchor="middle" fill="#262626" stroke="#262626" stroke-width="0.25">10</text>
<text x="386.55" y="550.8" font-size="12.5" text-anchor="middle" fill="#262626" stroke="#262626" stroke-width="0.25">15</text>
<text x="408.6" y="550.8" font-size="12.5" text-anchor="middle" fill="#262626" stroke="#262626" stroke-width="0.25">20</text>
<text x="430.65" y="550.8" font-size="12.5" text-anchor="middle" fill="#262626" stroke="#262626" stroke-width="0.25">25</text>
<text x="452.7" y="550.8" font-size="12.5" text-anchor="middle" fill="#262626" stroke="#262626" stroke-width="0.25">30</text>
<text x="316.5" y="404" font-size="12.6" text-anchor="end" fill="#262626" stroke="#262626" stroke-width="0.25">0.6</text>
<text x="316.5" y="426.83" font-size="12.6" text-anchor="end" fill="#262626" stroke="#262626" stroke-width="0.25">0.4</text>
<text x="316.5" y="449.67" font-size="12.6" text-anchor="end" fill="#262626" stroke="#262626" stroke-width="0.25">0.2</text>
<text x="316.5" y="472.5" font-size="12.6" text-anchor="end" fill="#262626" stroke="#262626" stroke-width="0.25">0.0</text>
<text x="316.5" y="495.33" font-size="12.6" text-anchor="end" fill="#262626" stroke="#262626" stroke-width="0.25">-0.2</text>
<text x="316.5" y="518.17" font-size="12.6" text-anchor="end" fill="#262626" stroke="#262626" stroke-width="0.25">-0.4</text>
<text x="316.5" y="541" font-size="12.6" text-anchor="end" fill="#262626" stroke="#262626" stroke-width="0.25">-0.6</text>
<text x="452.7" y="394.8" font-size="12.5" text-anchor="middle" fill="#262626" stroke="#262626" stroke-width="0.25">0</text>
<text x="492.3" y="394.8" font-size="12.5" text-anchor="middle" fill="#262626" stroke="#262626" stroke-width="0.25">50</text>
<text x="531.9" y="394.8" font-size="12.5" text-anchor="middle" fill="#262626" stroke="#262626" stroke-width="0.25">100</text>
<text x="571.5" y="394.8" font-size="12.5" text-anchor="middle" fill="#262626" stroke="#262626" stroke-width="0.25">150</text>
<text x="611.1" y="394.8" font-size="12.5" text-anchor="middle" fill="#262626" stroke="#262626" stroke-width="0.25">200</text>
<text x="536.4" y="379" font-size="11.4" text-anchor="middle" fill="#333" stroke="#333" stroke-width="0.25">Frequency</text>
<text x="380.8" y="565.2" font-size="12.95" text-anchor="middle" fill="#1a1a1a" stroke="#1a1a1a" stroke-width="0.25">Predicted porosity(%)</text>
<text transform="translate(292.2,468.3) rotate(-90)" font-size="13" text-anchor="middle" fill="#1a1a1a" stroke="#1a1a1a" stroke-width="0.25">Prediction error</text>
</svg></body></html>
